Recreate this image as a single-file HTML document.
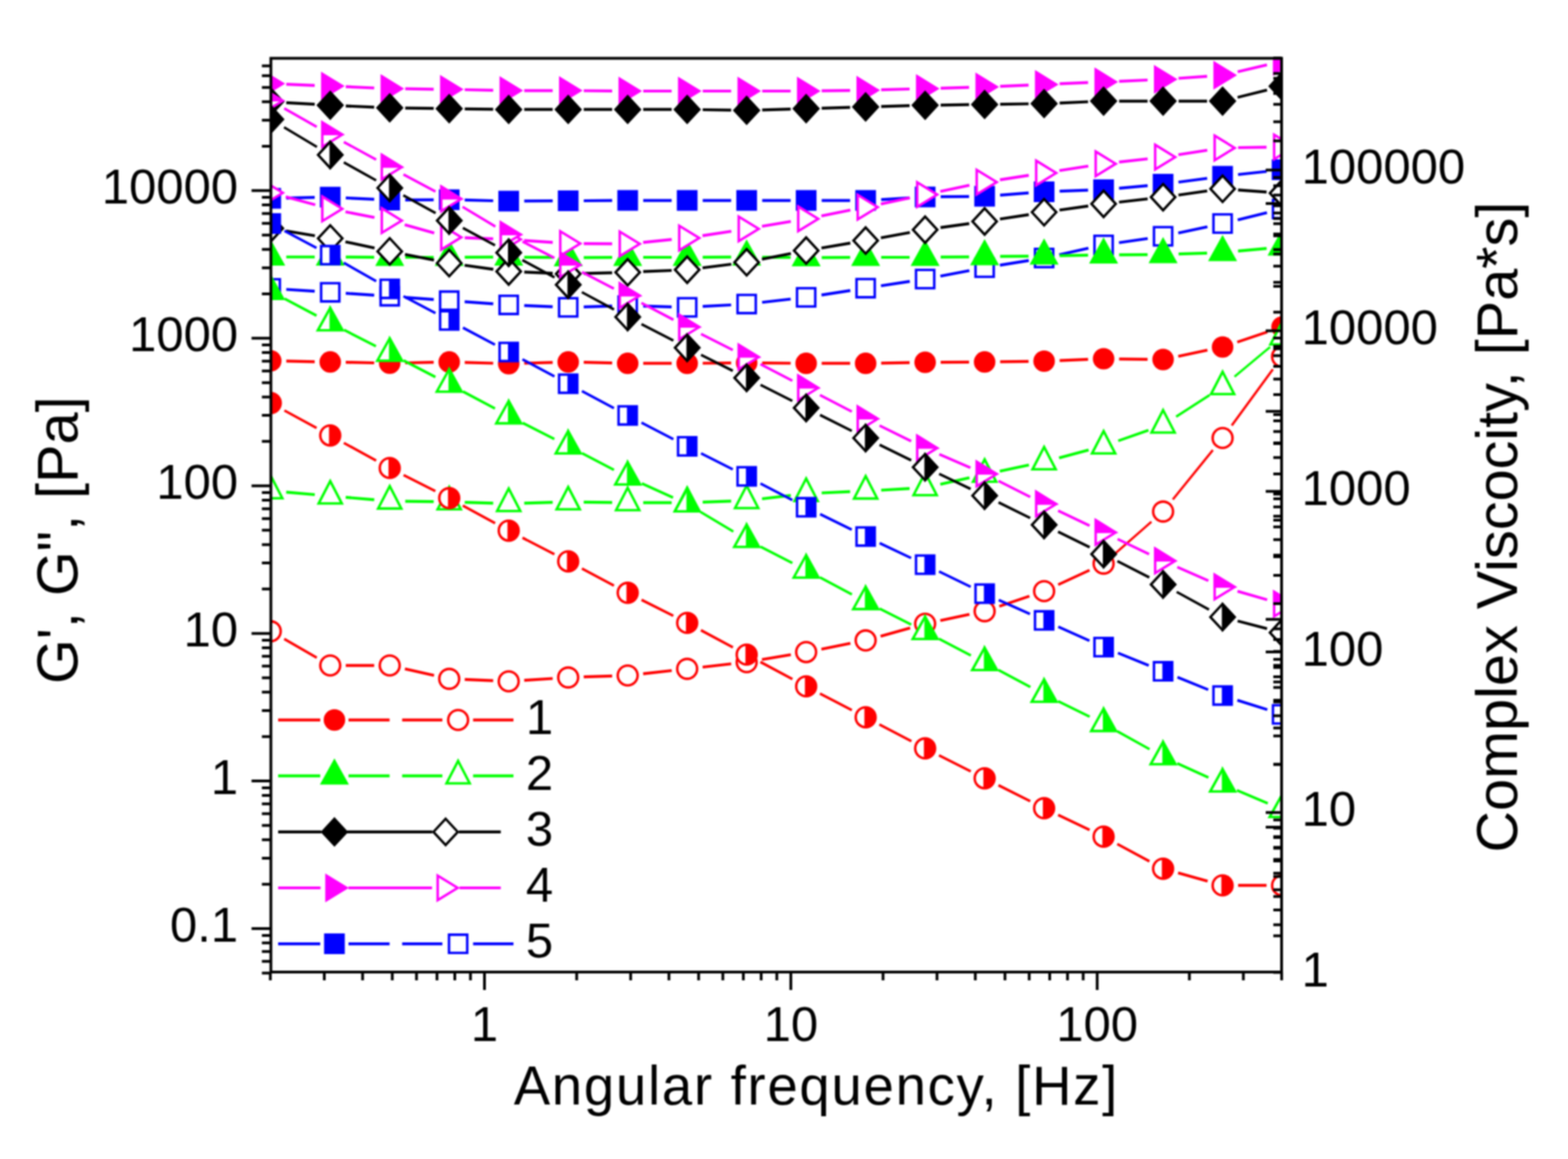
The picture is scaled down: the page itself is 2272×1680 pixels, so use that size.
<!DOCTYPE html>
<html><head><meta charset="utf-8"><title>Plot</title>
<style>
html,body{margin:0;padding:0;background:#fff;}
svg{display:block;filter:blur(0.8px);}
text{font-family:"Liberation Sans",Arial,Helvetica,sans-serif;fill:#000;}
.t{font-size:71px;}
.yt{font-size:83.5px;}
.xt{font-size:79px;letter-spacing:2.5px;}
</style></head><body>
<svg width="2272" height="1680" viewBox="0 0 2272 1680">
<rect width="2272" height="1680" fill="#fff"/>
<defs><clipPath id="pc"><rect x="392.5" y="84.5" width="1464.5" height="1324.5"/></clipPath></defs>
<g clip-path="url(#pc)">
<g fill="none" stroke="#ff0000"><path d="M414.8 523.4L456 524.3" stroke-width="4.20"/><path d="M501 525.1L542.2 526" stroke-width="4.20"/><path d="M587.2 526L628.4 525.1" stroke-width="4.20"/><path d="M673.4 525.3L714.6 526.5" stroke-width="4.20"/><path d="M759.6 526.5L800.8 525.3" stroke-width="4.20"/><path d="M845.8 525.2L887 526.2" stroke-width="4.20"/><path d="M932 526.7L973.2 526.7" stroke-width="4.20"/><path d="M1018.2 526.5L1059.4 526.2" stroke-width="4.20"/><path d="M1104.4 526.2L1145.6 526.5" stroke-width="4.20"/><path d="M1190.6 526.7L1231.8 526.7" stroke-width="4.20"/><path d="M1276.8 526.3L1318 525.6" stroke-width="4.20"/><path d="M1363 525.1L1404.2 524.8" stroke-width="4.20"/><path d="M1449.2 524.4L1490.4 523.8" stroke-width="4.20"/><path d="M1535.4 522.6L1576.6 520.9" stroke-width="4.20"/><path d="M1621.6 520.3L1662.8 520.8" stroke-width="4.20"/><path d="M1707.3 516.5L1749.5 507.6" stroke-width="4.11"/><path d="M1792.8 495.8L1836.4 481.2" stroke-width="3.98"/></g><circle cx="392.3" cy="523" r="15.6" fill="#ff0000"/><circle cx="478.5" cy="524.7" r="15.6" fill="#ff0000"/><circle cx="564.7" cy="526.4" r="15.6" fill="#ff0000"/><circle cx="650.9" cy="524.7" r="15.6" fill="#ff0000"/><circle cx="737.1" cy="527.1" r="15.6" fill="#ff0000"/><circle cx="823.3" cy="524.7" r="15.6" fill="#ff0000"/><circle cx="909.5" cy="526.7" r="15.6" fill="#ff0000"/><circle cx="995.7" cy="526.7" r="15.6" fill="#ff0000"/><circle cx="1081.9" cy="526" r="15.6" fill="#ff0000"/><circle cx="1168.1" cy="526.7" r="15.6" fill="#ff0000"/><circle cx="1254.3" cy="526.7" r="15.6" fill="#ff0000"/><circle cx="1340.5" cy="525.2" r="15.6" fill="#ff0000"/><circle cx="1426.7" cy="524.7" r="15.6" fill="#ff0000"/><circle cx="1512.9" cy="523.5" r="15.6" fill="#ff0000"/><circle cx="1599.1" cy="520" r="15.6" fill="#ff0000"/><circle cx="1685.3" cy="521.1" r="15.6" fill="#ff0000"/><circle cx="1771.5" cy="503" r="15.6" fill="#ff0000"/><circle cx="1857.7" cy="474" r="15.6" fill="#ff0000"/>
<g fill="none" stroke="#ff0000"><path d="M411.8 926.2L459 953.4" stroke-width="3.64"/><path d="M501 964.6L542.2 964.6" stroke-width="4.20"/><path d="M586.7 969.5L628.9 979.1" stroke-width="4.10"/><path d="M673.4 984.9L714.6 986.7" stroke-width="4.20"/><path d="M759.6 986.1L800.8 983.5" stroke-width="4.19"/><path d="M845.8 981.2L887 979.9" stroke-width="4.20"/><path d="M931.9 976.6L973.3 972" stroke-width="4.17"/><path d="M1018.1 967L1059.5 962.3" stroke-width="4.17"/><path d="M1104.1 956L1145.9 949" stroke-width="4.14"/><path d="M1190.2 940.9L1232.2 932.6" stroke-width="4.12"/><path d="M1276 922.2L1318.8 910.2" stroke-width="4.04"/><path d="M1362.5 899.5L1404.7 890.6" stroke-width="4.11"/><path d="M1448 878.8L1491.6 864.1" stroke-width="3.98"/><path d="M1533.3 847.4L1578.7 826.5" stroke-width="3.81"/><path d="M1616 802.2L1668.4 756.3" stroke-width="3.16"/><path d="M1699.4 724L1757.4 652.4" stroke-width="3.27"/><path d="M1784.8 616.7L1844.4 535.2" stroke-width="3.39"/></g><circle cx="392.3" cy="915" r="14.4" fill="#fff"/><circle cx="392.3" cy="915" r="14.4" fill="none" stroke="#ff0000" stroke-width="3.6"/><circle cx="478.5" cy="964.6" r="14.4" fill="#fff"/><circle cx="478.5" cy="964.6" r="14.4" fill="none" stroke="#ff0000" stroke-width="3.6"/><circle cx="564.7" cy="964.6" r="14.4" fill="#fff"/><circle cx="564.7" cy="964.6" r="14.4" fill="none" stroke="#ff0000" stroke-width="3.6"/><circle cx="650.9" cy="984" r="14.4" fill="#fff"/><circle cx="650.9" cy="984" r="14.4" fill="none" stroke="#ff0000" stroke-width="3.6"/><circle cx="737.1" cy="987.6" r="14.4" fill="#fff"/><circle cx="737.1" cy="987.6" r="14.4" fill="none" stroke="#ff0000" stroke-width="3.6"/><circle cx="823.3" cy="982" r="14.4" fill="#fff"/><circle cx="823.3" cy="982" r="14.4" fill="none" stroke="#ff0000" stroke-width="3.6"/><circle cx="909.5" cy="979.1" r="14.4" fill="#fff"/><circle cx="909.5" cy="979.1" r="14.4" fill="none" stroke="#ff0000" stroke-width="3.6"/><circle cx="995.7" cy="969.5" r="14.4" fill="#fff"/><circle cx="995.7" cy="969.5" r="14.4" fill="none" stroke="#ff0000" stroke-width="3.6"/><circle cx="1081.9" cy="959.8" r="14.4" fill="#fff"/><circle cx="1081.9" cy="959.8" r="14.4" fill="none" stroke="#ff0000" stroke-width="3.6"/><circle cx="1168.1" cy="945.2" r="14.4" fill="#fff"/><circle cx="1168.1" cy="945.2" r="14.4" fill="none" stroke="#ff0000" stroke-width="3.6"/><circle cx="1254.3" cy="928.3" r="14.4" fill="#fff"/><circle cx="1254.3" cy="928.3" r="14.4" fill="none" stroke="#ff0000" stroke-width="3.6"/><circle cx="1340.5" cy="904.1" r="14.4" fill="#fff"/><circle cx="1340.5" cy="904.1" r="14.4" fill="none" stroke="#ff0000" stroke-width="3.6"/><circle cx="1426.7" cy="886" r="14.4" fill="#fff"/><circle cx="1426.7" cy="886" r="14.4" fill="none" stroke="#ff0000" stroke-width="3.6"/><circle cx="1512.9" cy="856.9" r="14.4" fill="#fff"/><circle cx="1512.9" cy="856.9" r="14.4" fill="none" stroke="#ff0000" stroke-width="3.6"/><circle cx="1599.1" cy="817" r="14.4" fill="#fff"/><circle cx="1599.1" cy="817" r="14.4" fill="none" stroke="#ff0000" stroke-width="3.6"/><circle cx="1685.3" cy="741.5" r="14.4" fill="#fff"/><circle cx="1685.3" cy="741.5" r="14.4" fill="none" stroke="#ff0000" stroke-width="3.6"/><circle cx="1771.5" cy="634.9" r="14.4" fill="#fff"/><circle cx="1771.5" cy="634.9" r="14.4" fill="none" stroke="#ff0000" stroke-width="3.6"/><circle cx="1857.7" cy="517" r="14.4" fill="#fff"/><circle cx="1857.7" cy="517" r="14.4" fill="none" stroke="#ff0000" stroke-width="3.6"/>
<g fill="none" stroke="#0000ff"><path d="M414.8 287.1L456 286.2" stroke-width="4.20"/><path d="M501 286.9L542.2 288.9" stroke-width="4.20"/><path d="M587.2 289.8L628.4 289.6" stroke-width="4.20"/><path d="M673.4 289.9L714.6 291" stroke-width="4.20"/><path d="M759.6 291.4L800.8 291.2" stroke-width="4.20"/><path d="M845.8 291L887 290.7" stroke-width="4.20"/><path d="M932 290.6L973.2 290.6" stroke-width="4.20"/><path d="M1018.2 290.6L1059.4 290.6" stroke-width="4.20"/><path d="M1104.4 290.6L1145.6 290.6" stroke-width="4.20"/><path d="M1190.6 290.6L1231.8 290.6" stroke-width="4.20"/><path d="M1276.8 289.3L1318 286.8" stroke-width="4.19"/><path d="M1363 285.2L1404.2 284.8" stroke-width="4.20"/><path d="M1449.1 282.8L1490.5 279.7" stroke-width="4.19"/><path d="M1535.4 277.2L1576.6 275.7" stroke-width="4.20"/><path d="M1621.5 272.8L1662.9 269.1" stroke-width="4.18"/><path d="M1707.6 264L1749.2 258.5" stroke-width="4.16"/><path d="M1793.9 253L1835.3 248.5" stroke-width="4.17"/></g><path d="M379.1 274.3L405.5 274.3L405.5 300.7L379.1 300.7Z" fill="#0000ff" stroke="#0000ff" stroke-width="3.6" stroke-linejoin="miter"/><path d="M465.3 272.6L491.7 272.6L491.7 299L465.3 299Z" fill="#0000ff" stroke="#0000ff" stroke-width="3.6" stroke-linejoin="miter"/><path d="M551.5 276.8L577.9 276.8L577.9 303.2L551.5 303.2Z" fill="#0000ff" stroke="#0000ff" stroke-width="3.6" stroke-linejoin="miter"/><path d="M637.7 276.2L664.1 276.2L664.1 302.6L637.7 302.6Z" fill="#0000ff" stroke="#0000ff" stroke-width="3.6" stroke-linejoin="miter"/><path d="M723.9 278.3L750.3 278.3L750.3 304.7L723.9 304.7Z" fill="#0000ff" stroke="#0000ff" stroke-width="3.6" stroke-linejoin="miter"/><path d="M810.1 277.9L836.5 277.9L836.5 304.3L810.1 304.3Z" fill="#0000ff" stroke="#0000ff" stroke-width="3.6" stroke-linejoin="miter"/><path d="M896.3 277.4L922.7 277.4L922.7 303.8L896.3 303.8Z" fill="#0000ff" stroke="#0000ff" stroke-width="3.6" stroke-linejoin="miter"/><path d="M982.5 277.4L1008.9 277.4L1008.9 303.8L982.5 303.8Z" fill="#0000ff" stroke="#0000ff" stroke-width="3.6" stroke-linejoin="miter"/><path d="M1068.7 277.4L1095.1 277.4L1095.1 303.8L1068.7 303.8Z" fill="#0000ff" stroke="#0000ff" stroke-width="3.6" stroke-linejoin="miter"/><path d="M1154.9 277.4L1181.3 277.4L1181.3 303.8L1154.9 303.8Z" fill="#0000ff" stroke="#0000ff" stroke-width="3.6" stroke-linejoin="miter"/><path d="M1241.1 277.4L1267.5 277.4L1267.5 303.8L1241.1 303.8Z" fill="#0000ff" stroke="#0000ff" stroke-width="3.6" stroke-linejoin="miter"/><path d="M1327.3 272.3L1353.7 272.3L1353.7 298.7L1327.3 298.7Z" fill="#0000ff" stroke="#0000ff" stroke-width="3.6" stroke-linejoin="miter"/><path d="M1413.5 271.3L1439.9 271.3L1439.9 297.7L1413.5 297.7Z" fill="#0000ff" stroke="#0000ff" stroke-width="3.6" stroke-linejoin="miter"/><path d="M1499.7 264.8L1526.1 264.8L1526.1 291.2L1499.7 291.2Z" fill="#0000ff" stroke="#0000ff" stroke-width="3.6" stroke-linejoin="miter"/><path d="M1585.9 261.7L1612.3 261.7L1612.3 288.1L1585.9 288.1Z" fill="#0000ff" stroke="#0000ff" stroke-width="3.6" stroke-linejoin="miter"/><path d="M1672.1 253.8L1698.5 253.8L1698.5 280.2L1672.1 280.2Z" fill="#0000ff" stroke="#0000ff" stroke-width="3.6" stroke-linejoin="miter"/><path d="M1758.3 242.3L1784.7 242.3L1784.7 268.7L1758.3 268.7Z" fill="#0000ff" stroke="#0000ff" stroke-width="3.6" stroke-linejoin="miter"/><path d="M1844.5 232.8L1870.9 232.8L1870.9 259.2L1844.5 259.2Z" fill="#0000ff" stroke="#0000ff" stroke-width="3.6" stroke-linejoin="miter"/>
<g fill="none" stroke="#0000ff"><path d="M414.8 419.5L456 422.2" stroke-width="4.19"/><path d="M501 425.2L542.2 427.9" stroke-width="4.19"/><path d="M587.1 431.1L628.5 434.1" stroke-width="4.19"/><path d="M673.3 437.4L714.7 440.3" stroke-width="4.19"/><path d="M759.6 442.8L800.8 444.6" stroke-width="4.20"/><path d="M845.8 444.8L887 443.7" stroke-width="4.20"/><path d="M932 443.7L973.2 444.8" stroke-width="4.20"/><path d="M1018.2 444.2L1059.4 442" stroke-width="4.19"/><path d="M1104.3 438.2L1145.7 433.5" stroke-width="4.17"/><path d="M1190.3 427.6L1232.1 421.1" stroke-width="4.15"/><path d="M1276.5 414.3L1318.3 407.9" stroke-width="4.15"/><path d="M1362.6 400.3L1404.6 392.2" stroke-width="4.13"/><path d="M1448.9 384.4L1490.7 377.6" stroke-width="4.15"/><path d="M1534.9 369.2L1577.1 359.8" stroke-width="4.10"/><path d="M1621.4 351.8L1663 345.7" stroke-width="4.16"/><path d="M1707.3 337.8L1749.5 328.7" stroke-width="4.11"/><path d="M1793.4 318.7L1835.8 308.3" stroke-width="4.08"/></g><path d="M379.1 404.8L405.5 404.8L405.5 431.2L379.1 431.2Z" fill="#fff"/><path d="M379.1 404.8L405.5 404.8L405.5 431.2L379.1 431.2Z" fill="none" stroke="#0000ff" stroke-width="3.6" stroke-linejoin="miter"/><path d="M465.3 410.5L491.7 410.5L491.7 436.9L465.3 436.9Z" fill="#fff"/><path d="M465.3 410.5L491.7 410.5L491.7 436.9L465.3 436.9Z" fill="none" stroke="#0000ff" stroke-width="3.6" stroke-linejoin="miter"/><path d="M551.5 416.2L577.9 416.2L577.9 442.6L551.5 442.6Z" fill="#fff"/><path d="M551.5 416.2L577.9 416.2L577.9 442.6L551.5 442.6Z" fill="none" stroke="#0000ff" stroke-width="3.6" stroke-linejoin="miter"/><path d="M637.7 422.6L664.1 422.6L664.1 449L637.7 449Z" fill="#fff"/><path d="M637.7 422.6L664.1 422.6L664.1 449L637.7 449Z" fill="none" stroke="#0000ff" stroke-width="3.6" stroke-linejoin="miter"/><path d="M723.9 428.7L750.3 428.7L750.3 455.1L723.9 455.1Z" fill="#fff"/><path d="M723.9 428.7L750.3 428.7L750.3 455.1L723.9 455.1Z" fill="none" stroke="#0000ff" stroke-width="3.6" stroke-linejoin="miter"/><path d="M810.1 432.3L836.5 432.3L836.5 458.7L810.1 458.7Z" fill="#fff"/><path d="M810.1 432.3L836.5 432.3L836.5 458.7L810.1 458.7Z" fill="none" stroke="#0000ff" stroke-width="3.6" stroke-linejoin="miter"/><path d="M896.3 429.8L922.7 429.8L922.7 456.2L896.3 456.2Z" fill="#fff"/><path d="M896.3 429.8L922.7 429.8L922.7 456.2L896.3 456.2Z" fill="none" stroke="#0000ff" stroke-width="3.6" stroke-linejoin="miter"/><path d="M982.5 432.3L1008.9 432.3L1008.9 458.7L982.5 458.7Z" fill="#fff"/><path d="M982.5 432.3L1008.9 432.3L1008.9 458.7L982.5 458.7Z" fill="none" stroke="#0000ff" stroke-width="3.6" stroke-linejoin="miter"/><path d="M1068.7 427.5L1095.1 427.5L1095.1 453.9L1068.7 453.9Z" fill="#fff"/><path d="M1068.7 427.5L1095.1 427.5L1095.1 453.9L1068.7 453.9Z" fill="none" stroke="#0000ff" stroke-width="3.6" stroke-linejoin="miter"/><path d="M1154.9 417.8L1181.3 417.8L1181.3 444.2L1154.9 444.2Z" fill="#fff"/><path d="M1154.9 417.8L1181.3 417.8L1181.3 444.2L1154.9 444.2Z" fill="none" stroke="#0000ff" stroke-width="3.6" stroke-linejoin="miter"/><path d="M1241.1 404.5L1267.5 404.5L1267.5 430.9L1241.1 430.9Z" fill="#fff"/><path d="M1241.1 404.5L1267.5 404.5L1267.5 430.9L1241.1 430.9Z" fill="none" stroke="#0000ff" stroke-width="3.6" stroke-linejoin="miter"/><path d="M1327.3 391.3L1353.7 391.3L1353.7 417.7L1327.3 417.7Z" fill="#fff"/><path d="M1327.3 391.3L1353.7 391.3L1353.7 417.7L1327.3 417.7Z" fill="none" stroke="#0000ff" stroke-width="3.6" stroke-linejoin="miter"/><path d="M1413.5 374.8L1439.9 374.8L1439.9 401.2L1413.5 401.2Z" fill="#fff"/><path d="M1413.5 374.8L1439.9 374.8L1439.9 401.2L1413.5 401.2Z" fill="none" stroke="#0000ff" stroke-width="3.6" stroke-linejoin="miter"/><path d="M1499.7 360.8L1526.1 360.8L1526.1 387.2L1499.7 387.2Z" fill="#fff"/><path d="M1499.7 360.8L1526.1 360.8L1526.1 387.2L1499.7 387.2Z" fill="none" stroke="#0000ff" stroke-width="3.6" stroke-linejoin="miter"/><path d="M1585.9 341.8L1612.3 341.8L1612.3 368.2L1585.9 368.2Z" fill="#fff"/><path d="M1585.9 341.8L1612.3 341.8L1612.3 368.2L1585.9 368.2Z" fill="none" stroke="#0000ff" stroke-width="3.6" stroke-linejoin="miter"/><path d="M1672.1 329.3L1698.5 329.3L1698.5 355.7L1672.1 355.7Z" fill="#fff"/><path d="M1672.1 329.3L1698.5 329.3L1698.5 355.7L1672.1 355.7Z" fill="none" stroke="#0000ff" stroke-width="3.6" stroke-linejoin="miter"/><path d="M1758.3 310.8L1784.7 310.8L1784.7 337.2L1758.3 337.2Z" fill="#fff"/><path d="M1758.3 310.8L1784.7 310.8L1784.7 337.2L1758.3 337.2Z" fill="none" stroke="#0000ff" stroke-width="3.6" stroke-linejoin="miter"/><path d="M1844.5 289.8L1870.9 289.8L1870.9 316.2L1844.5 316.2Z" fill="#fff"/><path d="M1844.5 289.8L1870.9 289.8L1870.9 316.2L1844.5 316.2Z" fill="none" stroke="#0000ff" stroke-width="3.6" stroke-linejoin="miter"/>
<g fill="none" stroke="#00ff00"><path d="M414.8 372.5L456 372.5" stroke-width="4.20"/><path d="M501 372.6L542.2 372.9" stroke-width="4.20"/><path d="M587.2 373L628.4 373" stroke-width="4.20"/><path d="M673.4 372.9L714.6 372.6" stroke-width="4.20"/><path d="M759.6 372.8L800.8 373.2" stroke-width="4.20"/><path d="M845.8 373.4L887 373.1" stroke-width="4.20"/><path d="M932 373L973.2 373" stroke-width="4.20"/><path d="M1018.2 372.9L1059.4 372.6" stroke-width="4.20"/><path d="M1104.4 372.8L1145.6 373.2" stroke-width="4.20"/><path d="M1190.6 373.4L1231.8 373.1" stroke-width="4.20"/><path d="M1276.8 373L1318 373" stroke-width="4.20"/><path d="M1363 372.7L1404.2 372.3" stroke-width="4.20"/><path d="M1449.2 371.7L1490.4 371.3" stroke-width="4.20"/><path d="M1535.4 370.6L1576.6 369.9" stroke-width="4.20"/><path d="M1621.6 369.4L1662.8 369.1" stroke-width="4.20"/><path d="M1707.8 368.2L1749 366.8" stroke-width="4.20"/><path d="M1793.9 363.9L1835.3 360.1" stroke-width="4.18"/></g><path d="M392.3 350.8L410.3 383.3L374.3 383.3Z" fill="#00ff00" stroke="#00ff00" stroke-width="3.6" stroke-linejoin="miter"/><path d="M478.5 350.8L496.5 383.3L460.5 383.3Z" fill="#00ff00" stroke="#00ff00" stroke-width="3.6" stroke-linejoin="miter"/><path d="M564.7 351.3L582.7 383.8L546.7 383.8Z" fill="#00ff00" stroke="#00ff00" stroke-width="3.6" stroke-linejoin="miter"/><path d="M650.9 351.3L668.9 383.8L632.9 383.8Z" fill="#00ff00" stroke="#00ff00" stroke-width="3.6" stroke-linejoin="miter"/><path d="M737.1 350.8L755.1 383.3L719.1 383.3Z" fill="#00ff00" stroke="#00ff00" stroke-width="3.6" stroke-linejoin="miter"/><path d="M823.3 351.8L841.3 384.3L805.3 384.3Z" fill="#00ff00" stroke="#00ff00" stroke-width="3.6" stroke-linejoin="miter"/><path d="M909.5 351.3L927.5 383.8L891.5 383.8Z" fill="#00ff00" stroke="#00ff00" stroke-width="3.6" stroke-linejoin="miter"/><path d="M995.7 351.3L1013.7 383.8L977.7 383.8Z" fill="#00ff00" stroke="#00ff00" stroke-width="3.6" stroke-linejoin="miter"/><path d="M1081.9 350.8L1099.9 383.3L1063.9 383.3Z" fill="#00ff00" stroke="#00ff00" stroke-width="3.6" stroke-linejoin="miter"/><path d="M1168.1 351.8L1186.1 384.3L1150.1 384.3Z" fill="#00ff00" stroke="#00ff00" stroke-width="3.6" stroke-linejoin="miter"/><path d="M1254.3 351.3L1272.3 383.8L1236.3 383.8Z" fill="#00ff00" stroke="#00ff00" stroke-width="3.6" stroke-linejoin="miter"/><path d="M1340.5 351.3L1358.5 383.8L1322.5 383.8Z" fill="#00ff00" stroke="#00ff00" stroke-width="3.6" stroke-linejoin="miter"/><path d="M1426.7 350.3L1444.7 382.8L1408.7 382.8Z" fill="#00ff00" stroke="#00ff00" stroke-width="3.6" stroke-linejoin="miter"/><path d="M1512.9 349.3L1530.9 381.8L1494.9 381.8Z" fill="#00ff00" stroke="#00ff00" stroke-width="3.6" stroke-linejoin="miter"/><path d="M1599.1 347.8L1617.1 380.3L1581.1 380.3Z" fill="#00ff00" stroke="#00ff00" stroke-width="3.6" stroke-linejoin="miter"/><path d="M1685.3 347.3L1703.3 379.8L1667.3 379.8Z" fill="#00ff00" stroke="#00ff00" stroke-width="3.6" stroke-linejoin="miter"/><path d="M1771.5 344.3L1789.5 376.8L1753.5 376.8Z" fill="#00ff00" stroke="#00ff00" stroke-width="3.6" stroke-linejoin="miter"/><path d="M1857.7 336.3L1875.7 368.8L1839.7 368.8Z" fill="#00ff00" stroke="#00ff00" stroke-width="3.6" stroke-linejoin="miter"/>
<g fill="none" stroke="#00ff00"><path d="M414.7 713.4L456.1 717" stroke-width="4.18"/><path d="M500.9 720.9L542.3 724.4" stroke-width="4.19"/><path d="M587.2 726.6L628.4 727.2" stroke-width="4.20"/><path d="M673.4 728.1L714.6 729.3" stroke-width="4.20"/><path d="M759.6 729.3L800.8 728.1" stroke-width="4.20"/><path d="M845.8 727.8L887 728.4" stroke-width="4.20"/><path d="M932 728.6L973.2 728.6" stroke-width="4.20"/><path d="M1018.2 727.8L1059.4 726.4" stroke-width="4.20"/><path d="M1104.2 723L1145.8 718.1" stroke-width="4.17"/><path d="M1190.6 714.5L1231.8 712.7" stroke-width="4.20"/><path d="M1276.8 710.5L1318 708.2" stroke-width="4.19"/><path d="M1362.5 702L1404.7 692.4" stroke-width="4.10"/><path d="M1448.7 682.9L1490.9 674.1" stroke-width="4.11"/><path d="M1534.6 663.7L1577.4 652.3" stroke-width="4.06"/><path d="M1620.3 639L1664.1 623.7" stroke-width="3.96"/><path d="M1704.2 604L1752.6 572.7" stroke-width="3.53"/><path d="M1788.8 546.1L1840.4 502.9" stroke-width="3.22"/></g><path d="M392.3 689.7L409.1 722.2L375.5 722.2Z" fill="#fff"/><path d="M392.3 689.7L409.1 722.2L375.5 722.2Z" fill="none" stroke="#00ff00" stroke-width="3.6" stroke-linejoin="miter"/><path d="M478.5 697.3L495.3 729.8L461.7 729.8Z" fill="#fff"/><path d="M478.5 697.3L495.3 729.8L461.7 729.8Z" fill="none" stroke="#00ff00" stroke-width="3.6" stroke-linejoin="miter"/><path d="M564.7 704.6L581.5 737.1L547.9 737.1Z" fill="#fff"/><path d="M564.7 704.6L581.5 737.1L547.9 737.1Z" fill="none" stroke="#00ff00" stroke-width="3.6" stroke-linejoin="miter"/><path d="M650.9 705.8L667.7 738.3L634.1 738.3Z" fill="#fff"/><path d="M650.9 705.8L667.7 738.3L634.1 738.3Z" fill="none" stroke="#00ff00" stroke-width="3.6" stroke-linejoin="miter"/><path d="M737.1 708.2L753.9 740.7L720.3 740.7Z" fill="#fff"/><path d="M737.1 708.2L753.9 740.7L720.3 740.7Z" fill="none" stroke="#00ff00" stroke-width="3.6" stroke-linejoin="miter"/><path d="M823.3 705.8L840.1 738.3L806.5 738.3Z" fill="#fff"/><path d="M823.3 705.8L840.1 738.3L806.5 738.3Z" fill="none" stroke="#00ff00" stroke-width="3.6" stroke-linejoin="miter"/><path d="M909.5 707L926.3 739.5L892.7 739.5Z" fill="#fff"/><path d="M909.5 707L926.3 739.5L892.7 739.5Z" fill="none" stroke="#00ff00" stroke-width="3.6" stroke-linejoin="miter"/><path d="M995.7 706.8L1012.5 739.3L978.9 739.3Z" fill="#fff"/><path d="M995.7 706.8L1012.5 739.3L978.9 739.3Z" fill="none" stroke="#00ff00" stroke-width="3.6" stroke-linejoin="miter"/><path d="M1081.9 704L1098.7 736.5L1065.1 736.5Z" fill="#fff"/><path d="M1081.9 704L1098.7 736.5L1065.1 736.5Z" fill="none" stroke="#00ff00" stroke-width="3.6" stroke-linejoin="miter"/><path d="M1168.1 693.7L1184.9 726.2L1151.3 726.2Z" fill="#fff"/><path d="M1168.1 693.7L1184.9 726.2L1151.3 726.2Z" fill="none" stroke="#00ff00" stroke-width="3.6" stroke-linejoin="miter"/><path d="M1254.3 690.1L1271.1 722.6L1237.5 722.6Z" fill="#fff"/><path d="M1254.3 690.1L1271.1 722.6L1237.5 722.6Z" fill="none" stroke="#00ff00" stroke-width="3.6" stroke-linejoin="miter"/><path d="M1340.5 685.2L1357.3 717.7L1323.7 717.7Z" fill="#fff"/><path d="M1340.5 685.2L1357.3 717.7L1323.7 717.7Z" fill="none" stroke="#00ff00" stroke-width="3.6" stroke-linejoin="miter"/><path d="M1426.7 665.8L1443.5 698.3L1409.9 698.3Z" fill="#fff"/><path d="M1426.7 665.8L1443.5 698.3L1409.9 698.3Z" fill="none" stroke="#00ff00" stroke-width="3.6" stroke-linejoin="miter"/><path d="M1512.9 647.8L1529.7 680.3L1496.1 680.3Z" fill="#fff"/><path d="M1512.9 647.8L1529.7 680.3L1496.1 680.3Z" fill="none" stroke="#00ff00" stroke-width="3.6" stroke-linejoin="miter"/><path d="M1599.1 624.8L1615.9 657.3L1582.3 657.3Z" fill="#fff"/><path d="M1599.1 624.8L1615.9 657.3L1582.3 657.3Z" fill="none" stroke="#00ff00" stroke-width="3.6" stroke-linejoin="miter"/><path d="M1685.3 594.5L1702.1 627L1668.5 627Z" fill="#fff"/><path d="M1685.3 594.5L1702.1 627L1668.5 627Z" fill="none" stroke="#00ff00" stroke-width="3.6" stroke-linejoin="miter"/><path d="M1771.5 538.8L1788.3 571.3L1754.7 571.3Z" fill="#fff"/><path d="M1771.5 538.8L1788.3 571.3L1754.7 571.3Z" fill="none" stroke="#00ff00" stroke-width="3.6" stroke-linejoin="miter"/><path d="M1857.7 466.8L1874.5 499.3L1840.9 499.3Z" fill="#fff"/><path d="M1857.7 466.8L1874.5 499.3L1840.9 499.3Z" fill="none" stroke="#00ff00" stroke-width="3.6" stroke-linejoin="miter"/>
<g fill="none" stroke="#ff00ff"><path d="M414.8 122.2L456 123.9" stroke-width="4.20"/><path d="M501 125.7L542.2 127.5" stroke-width="4.20"/><path d="M587.2 128.7L628.4 129.3" stroke-width="4.20"/><path d="M673.4 130L714.6 130.9" stroke-width="4.20"/><path d="M759.6 131.3L800.8 131.3" stroke-width="4.20"/><path d="M845.8 131.5L887 131.8" stroke-width="4.20"/><path d="M932 132L973.2 132" stroke-width="4.20"/><path d="M1018.2 132L1059.4 132" stroke-width="4.20"/><path d="M1104.4 132L1145.6 132" stroke-width="4.20"/><path d="M1190.6 131.7L1231.8 131.1" stroke-width="4.20"/><path d="M1276.8 130.2L1318 129" stroke-width="4.20"/><path d="M1363 127.8L1404.2 126.6" stroke-width="4.20"/><path d="M1449.2 125.1L1490.4 123.3" stroke-width="4.20"/><path d="M1535.4 121.4L1576.6 119.7" stroke-width="4.20"/><path d="M1621.6 117.8L1662.8 116" stroke-width="4.20"/><path d="M1707.7 113.5L1749.1 110.6" stroke-width="4.19"/><path d="M1793.4 103.9L1835.8 94.1" stroke-width="4.09"/></g><path d="M380.8 103.5L409.8 121.3L380.8 139.1Z" fill="#ff00ff" stroke="#ff00ff" stroke-width="3.6" stroke-linejoin="miter"/><path d="M467 107L496 124.8L467 142.6Z" fill="#ff00ff" stroke="#ff00ff" stroke-width="3.6" stroke-linejoin="miter"/><path d="M553.2 110.6L582.2 128.4L553.2 146.2Z" fill="#ff00ff" stroke="#ff00ff" stroke-width="3.6" stroke-linejoin="miter"/><path d="M639.4 111.8L668.4 129.6L639.4 147.4Z" fill="#ff00ff" stroke="#ff00ff" stroke-width="3.6" stroke-linejoin="miter"/><path d="M725.6 113.5L754.6 131.3L725.6 149.1Z" fill="#ff00ff" stroke="#ff00ff" stroke-width="3.6" stroke-linejoin="miter"/><path d="M811.8 113.5L840.8 131.3L811.8 149.1Z" fill="#ff00ff" stroke="#ff00ff" stroke-width="3.6" stroke-linejoin="miter"/><path d="M898 114.2L927 132L898 149.8Z" fill="#ff00ff" stroke="#ff00ff" stroke-width="3.6" stroke-linejoin="miter"/><path d="M984.2 114.2L1013.2 132L984.2 149.8Z" fill="#ff00ff" stroke="#ff00ff" stroke-width="3.6" stroke-linejoin="miter"/><path d="M1070.4 114.2L1099.4 132L1070.4 149.8Z" fill="#ff00ff" stroke="#ff00ff" stroke-width="3.6" stroke-linejoin="miter"/><path d="M1156.6 114.2L1185.6 132L1156.6 149.8Z" fill="#ff00ff" stroke="#ff00ff" stroke-width="3.6" stroke-linejoin="miter"/><path d="M1242.8 113L1271.8 130.8L1242.8 148.6Z" fill="#ff00ff" stroke="#ff00ff" stroke-width="3.6" stroke-linejoin="miter"/><path d="M1329 110.6L1358 128.4L1329 146.2Z" fill="#ff00ff" stroke="#ff00ff" stroke-width="3.6" stroke-linejoin="miter"/><path d="M1415.2 108.2L1444.2 126L1415.2 143.8Z" fill="#ff00ff" stroke="#ff00ff" stroke-width="3.6" stroke-linejoin="miter"/><path d="M1501.4 104.6L1530.4 122.4L1501.4 140.2Z" fill="#ff00ff" stroke="#ff00ff" stroke-width="3.6" stroke-linejoin="miter"/><path d="M1587.6 100.9L1616.6 118.7L1587.6 136.5Z" fill="#ff00ff" stroke="#ff00ff" stroke-width="3.6" stroke-linejoin="miter"/><path d="M1673.8 97.3L1702.8 115.1L1673.8 132.9Z" fill="#ff00ff" stroke="#ff00ff" stroke-width="3.6" stroke-linejoin="miter"/><path d="M1760 91.2L1789 109L1760 126.8Z" fill="#ff00ff" stroke="#ff00ff" stroke-width="3.6" stroke-linejoin="miter"/><path d="M1846.2 71.2L1875.2 89L1846.2 106.8Z" fill="#ff00ff" stroke="#ff00ff" stroke-width="3.6" stroke-linejoin="miter"/>
<g fill="none" stroke="#ff00ff"><path d="M414 285.3L456.8 296.9" stroke-width="4.06"/><path d="M500.6 307.1L542.6 315.3" stroke-width="4.12"/><path d="M586.4 325.8L629.2 337.8" stroke-width="4.04"/><path d="M673.4 344.7L714.6 346.2" stroke-width="4.20"/><path d="M759.5 348.6L800.9 351.4" stroke-width="4.19"/><path d="M845.8 353.1L887 353.4" stroke-width="4.20"/><path d="M931.9 351.3L973.3 347.2" stroke-width="4.18"/><path d="M1017.9 341.6L1059.7 335.2" stroke-width="4.15"/><path d="M1104.1 328L1145.9 321" stroke-width="4.14"/><path d="M1190.2 312.9L1232.2 304.6" stroke-width="4.12"/><path d="M1276.3 295.7L1318.5 286.7" stroke-width="4.11"/><path d="M1362.5 277.5L1404.7 268.6" stroke-width="4.11"/><path d="M1448.9 260.6L1490.7 254.1" stroke-width="4.15"/><path d="M1535.1 247.3L1576.9 240.8" stroke-width="4.15"/><path d="M1621.5 234.9L1662.9 230.2" stroke-width="4.17"/><path d="M1707.5 224.3L1749.3 217.8" stroke-width="4.15"/><path d="M1794 214L1835.2 213.4" stroke-width="4.20"/></g><path d="M380.8 261.7L409.8 279.5L380.8 297.3Z" fill="#fff"/><path d="M380.8 261.7L409.8 279.5L380.8 297.3Z" fill="none" stroke="#ff00ff" stroke-width="3.6" stroke-linejoin="miter"/><path d="M467 284.9L496 302.7L467 320.5Z" fill="#fff"/><path d="M467 284.9L496 302.7L467 320.5Z" fill="none" stroke="#ff00ff" stroke-width="3.6" stroke-linejoin="miter"/><path d="M553.2 301.9L582.2 319.7L553.2 337.5Z" fill="#fff"/><path d="M553.2 301.9L582.2 319.7L553.2 337.5Z" fill="none" stroke="#ff00ff" stroke-width="3.6" stroke-linejoin="miter"/><path d="M639.4 326.1L668.4 343.9L639.4 361.7Z" fill="#fff"/><path d="M639.4 326.1L668.4 343.9L639.4 361.7Z" fill="none" stroke="#ff00ff" stroke-width="3.6" stroke-linejoin="miter"/><path d="M725.6 329.2L754.6 347L725.6 364.8Z" fill="#fff"/><path d="M725.6 329.2L754.6 347L725.6 364.8Z" fill="none" stroke="#ff00ff" stroke-width="3.6" stroke-linejoin="miter"/><path d="M811.8 335.2L840.8 353L811.8 370.8Z" fill="#fff"/><path d="M811.8 335.2L840.8 353L811.8 370.8Z" fill="none" stroke="#ff00ff" stroke-width="3.6" stroke-linejoin="miter"/><path d="M898 335.7L927 353.5L898 371.3Z" fill="#fff"/><path d="M898 335.7L927 353.5L898 371.3Z" fill="none" stroke="#ff00ff" stroke-width="3.6" stroke-linejoin="miter"/><path d="M984.2 327.2L1013.2 345L984.2 362.8Z" fill="#fff"/><path d="M984.2 327.2L1013.2 345L984.2 362.8Z" fill="none" stroke="#ff00ff" stroke-width="3.6" stroke-linejoin="miter"/><path d="M1070.4 314L1099.4 331.8L1070.4 349.6Z" fill="#fff"/><path d="M1070.4 314L1099.4 331.8L1070.4 349.6Z" fill="none" stroke="#ff00ff" stroke-width="3.6" stroke-linejoin="miter"/><path d="M1156.6 299.4L1185.6 317.2L1156.6 335Z" fill="#fff"/><path d="M1156.6 299.4L1185.6 317.2L1156.6 335Z" fill="none" stroke="#ff00ff" stroke-width="3.6" stroke-linejoin="miter"/><path d="M1242.8 282.5L1271.8 300.3L1242.8 318.1Z" fill="#fff"/><path d="M1242.8 282.5L1271.8 300.3L1242.8 318.1Z" fill="none" stroke="#ff00ff" stroke-width="3.6" stroke-linejoin="miter"/><path d="M1329 264.3L1358 282.1L1329 299.9Z" fill="#fff"/><path d="M1329 264.3L1358 282.1L1329 299.9Z" fill="none" stroke="#ff00ff" stroke-width="3.6" stroke-linejoin="miter"/><path d="M1415.2 246.2L1444.2 264L1415.2 281.8Z" fill="#fff"/><path d="M1415.2 246.2L1444.2 264L1415.2 281.8Z" fill="none" stroke="#ff00ff" stroke-width="3.6" stroke-linejoin="miter"/><path d="M1501.4 232.9L1530.4 250.7L1501.4 268.5Z" fill="#fff"/><path d="M1501.4 232.9L1530.4 250.7L1501.4 268.5Z" fill="none" stroke="#ff00ff" stroke-width="3.6" stroke-linejoin="miter"/><path d="M1587.6 219.6L1616.6 237.4L1587.6 255.2Z" fill="#fff"/><path d="M1587.6 219.6L1616.6 237.4L1587.6 255.2Z" fill="none" stroke="#ff00ff" stroke-width="3.6" stroke-linejoin="miter"/><path d="M1673.8 209.9L1702.8 227.7L1673.8 245.5Z" fill="#fff"/><path d="M1673.8 209.9L1702.8 227.7L1673.8 245.5Z" fill="none" stroke="#ff00ff" stroke-width="3.6" stroke-linejoin="miter"/><path d="M1760 196.6L1789 214.4L1760 232.2Z" fill="#fff"/><path d="M1760 196.6L1789 214.4L1760 232.2Z" fill="none" stroke="#ff00ff" stroke-width="3.6" stroke-linejoin="miter"/><path d="M1846.2 195.2L1875.2 213L1846.2 230.8Z" fill="#fff"/><path d="M1846.2 195.2L1875.2 213L1846.2 230.8Z" fill="none" stroke="#ff00ff" stroke-width="3.6" stroke-linejoin="miter"/>
<g fill="none" stroke="#000000"><path d="M414.8 148.8L456 151.2" stroke-width="4.19"/><path d="M501 153.6L542.2 155.3" stroke-width="4.20"/><path d="M587.2 156.6L628.4 157.2" stroke-width="4.20"/><path d="M673.4 157.8L714.6 158.4" stroke-width="4.20"/><path d="M759.6 158.7L800.8 158.7" stroke-width="4.20"/><path d="M845.8 158.7L887 158.7" stroke-width="4.20"/><path d="M932 158.7L973.2 158.7" stroke-width="4.20"/><path d="M1018.2 159L1059.4 159.6" stroke-width="4.20"/><path d="M1104.4 159.3L1145.6 158.1" stroke-width="4.20"/><path d="M1190.6 156.8L1231.8 155.7" stroke-width="4.20"/><path d="M1276.8 154.4L1318 153.2" stroke-width="4.20"/><path d="M1363 152.3L1404.2 151.7" stroke-width="4.20"/><path d="M1449.2 151.1L1490.4 150.5" stroke-width="4.20"/><path d="M1535.4 149.3L1576.6 147.5" stroke-width="4.20"/><path d="M1621.6 146.6L1662.8 146.6" stroke-width="4.20"/><path d="M1707.8 146.6L1749 146.6" stroke-width="4.20"/><path d="M1793.3 141.1L1835.9 130.5" stroke-width="4.07"/></g><path d="M392.3 128.4L409.9 147.4L392.3 166.4L374.7 147.4Z" fill="#000000" stroke="#000000" stroke-width="3.6" stroke-linejoin="miter"/><path d="M478.5 133.6L496.1 152.6L478.5 171.6L460.9 152.6Z" fill="#000000" stroke="#000000" stroke-width="3.6" stroke-linejoin="miter"/><path d="M564.7 137.3L582.3 156.3L564.7 175.3L547.1 156.3Z" fill="#000000" stroke="#000000" stroke-width="3.6" stroke-linejoin="miter"/><path d="M650.9 138.5L668.5 157.5L650.9 176.5L633.3 157.5Z" fill="#000000" stroke="#000000" stroke-width="3.6" stroke-linejoin="miter"/><path d="M737.1 139.7L754.7 158.7L737.1 177.7L719.5 158.7Z" fill="#000000" stroke="#000000" stroke-width="3.6" stroke-linejoin="miter"/><path d="M823.3 139.7L840.9 158.7L823.3 177.7L805.7 158.7Z" fill="#000000" stroke="#000000" stroke-width="3.6" stroke-linejoin="miter"/><path d="M909.5 139.7L927.1 158.7L909.5 177.7L891.9 158.7Z" fill="#000000" stroke="#000000" stroke-width="3.6" stroke-linejoin="miter"/><path d="M995.7 139.7L1013.3 158.7L995.7 177.7L978.1 158.7Z" fill="#000000" stroke="#000000" stroke-width="3.6" stroke-linejoin="miter"/><path d="M1081.9 140.9L1099.5 159.9L1081.9 178.9L1064.3 159.9Z" fill="#000000" stroke="#000000" stroke-width="3.6" stroke-linejoin="miter"/><path d="M1168.1 138.5L1185.7 157.5L1168.1 176.5L1150.5 157.5Z" fill="#000000" stroke="#000000" stroke-width="3.6" stroke-linejoin="miter"/><path d="M1254.3 136L1271.9 155L1254.3 174L1236.7 155Z" fill="#000000" stroke="#000000" stroke-width="3.6" stroke-linejoin="miter"/><path d="M1340.5 133.6L1358.1 152.6L1340.5 171.6L1322.9 152.6Z" fill="#000000" stroke="#000000" stroke-width="3.6" stroke-linejoin="miter"/><path d="M1426.7 132.4L1444.3 151.4L1426.7 170.4L1409.1 151.4Z" fill="#000000" stroke="#000000" stroke-width="3.6" stroke-linejoin="miter"/><path d="M1512.9 131.2L1530.5 150.2L1512.9 169.2L1495.3 150.2Z" fill="#000000" stroke="#000000" stroke-width="3.6" stroke-linejoin="miter"/><path d="M1599.1 127.6L1616.7 146.6L1599.1 165.6L1581.5 146.6Z" fill="#000000" stroke="#000000" stroke-width="3.6" stroke-linejoin="miter"/><path d="M1685.3 127.6L1702.9 146.6L1685.3 165.6L1667.7 146.6Z" fill="#000000" stroke="#000000" stroke-width="3.6" stroke-linejoin="miter"/><path d="M1771.5 127.6L1789.1 146.6L1771.5 165.6L1753.9 146.6Z" fill="#000000" stroke="#000000" stroke-width="3.6" stroke-linejoin="miter"/><path d="M1857.7 106L1875.3 125L1857.7 144L1840.1 125Z" fill="#000000" stroke="#000000" stroke-width="3.6" stroke-linejoin="miter"/>
<g fill="none" stroke="#000000"><path d="M414.5 334.8L456.3 341.8" stroke-width="4.14"/><path d="M500.5 350.4L542.7 359.6" stroke-width="4.10"/><path d="M586.8 368.8L628.8 377" stroke-width="4.12"/><path d="M673.2 384.5L714.8 390.4" stroke-width="4.16"/><path d="M759.6 394.4L800.8 396.1" stroke-width="4.20"/><path d="M845.8 396.4L887 395.3" stroke-width="4.20"/><path d="M932 393.7L973.2 392" stroke-width="4.20"/><path d="M1018 388.2L1059.6 383" stroke-width="4.17"/><path d="M1104 375.8L1146 367.6" stroke-width="4.12"/><path d="M1190.3 359.5L1232.1 352.4" stroke-width="4.14"/><path d="M1276.4 344.7L1318.4 337" stroke-width="4.13"/><path d="M1362.8 329.9L1404.4 324.1" stroke-width="4.16"/><path d="M1448.9 317.5L1490.7 311.1" stroke-width="4.15"/><path d="M1535.2 304.5L1576.8 298.6" stroke-width="4.16"/><path d="M1621.5 293L1662.9 288.3" stroke-width="4.17"/><path d="M1707.6 282.7L1749.2 276.8" stroke-width="4.16"/><path d="M1793.9 275.3L1835.3 278.4" stroke-width="4.19"/></g><path d="M392.3 312L409.9 331L392.3 350L374.7 331Z" fill="#fff"/><path d="M392.3 312L409.9 331L392.3 350L374.7 331Z" fill="none" stroke="#000000" stroke-width="3.6" stroke-linejoin="miter"/><path d="M478.5 326.6L496.1 345.6L478.5 364.6L460.9 345.6Z" fill="#fff"/><path d="M478.5 326.6L496.1 345.6L478.5 364.6L460.9 345.6Z" fill="none" stroke="#000000" stroke-width="3.6" stroke-linejoin="miter"/><path d="M564.7 345.4L582.3 364.4L564.7 383.4L547.1 364.4Z" fill="#fff"/><path d="M564.7 345.4L582.3 364.4L564.7 383.4L547.1 364.4Z" fill="none" stroke="#000000" stroke-width="3.6" stroke-linejoin="miter"/><path d="M650.9 362.4L668.5 381.4L650.9 400.4L633.3 381.4Z" fill="#fff"/><path d="M650.9 362.4L668.5 381.4L650.9 400.4L633.3 381.4Z" fill="none" stroke="#000000" stroke-width="3.6" stroke-linejoin="miter"/><path d="M737.1 374.5L754.7 393.5L737.1 412.5L719.5 393.5Z" fill="#fff"/><path d="M737.1 374.5L754.7 393.5L737.1 412.5L719.5 393.5Z" fill="none" stroke="#000000" stroke-width="3.6" stroke-linejoin="miter"/><path d="M823.3 378L840.9 397L823.3 416L805.7 397Z" fill="#fff"/><path d="M823.3 378L840.9 397L823.3 416L805.7 397Z" fill="none" stroke="#000000" stroke-width="3.6" stroke-linejoin="miter"/><path d="M909.5 375.7L927.1 394.7L909.5 413.7L891.9 394.7Z" fill="#fff"/><path d="M909.5 375.7L927.1 394.7L909.5 413.7L891.9 394.7Z" fill="none" stroke="#000000" stroke-width="3.6" stroke-linejoin="miter"/><path d="M995.7 372L1013.3 391L995.7 410L978.1 391Z" fill="#fff"/><path d="M995.7 372L1013.3 391L995.7 410L978.1 391Z" fill="none" stroke="#000000" stroke-width="3.6" stroke-linejoin="miter"/><path d="M1081.9 361.2L1099.5 380.2L1081.9 399.2L1064.3 380.2Z" fill="#fff"/><path d="M1081.9 361.2L1099.5 380.2L1081.9 399.2L1064.3 380.2Z" fill="none" stroke="#000000" stroke-width="3.6" stroke-linejoin="miter"/><path d="M1168.1 344.2L1185.7 363.2L1168.1 382.2L1150.5 363.2Z" fill="#fff"/><path d="M1168.1 344.2L1185.7 363.2L1168.1 382.2L1150.5 363.2Z" fill="none" stroke="#000000" stroke-width="3.6" stroke-linejoin="miter"/><path d="M1254.3 329.7L1271.9 348.7L1254.3 367.7L1236.7 348.7Z" fill="#fff"/><path d="M1254.3 329.7L1271.9 348.7L1254.3 367.7L1236.7 348.7Z" fill="none" stroke="#000000" stroke-width="3.6" stroke-linejoin="miter"/><path d="M1340.5 314L1358.1 333L1340.5 352L1322.9 333Z" fill="#fff"/><path d="M1340.5 314L1358.1 333L1340.5 352L1322.9 333Z" fill="none" stroke="#000000" stroke-width="3.6" stroke-linejoin="miter"/><path d="M1426.7 302L1444.3 321L1426.7 340L1409.1 321Z" fill="#fff"/><path d="M1426.7 302L1444.3 321L1426.7 340L1409.1 321Z" fill="none" stroke="#000000" stroke-width="3.6" stroke-linejoin="miter"/><path d="M1512.9 288.6L1530.5 307.6L1512.9 326.6L1495.3 307.6Z" fill="#fff"/><path d="M1512.9 288.6L1530.5 307.6L1512.9 326.6L1495.3 307.6Z" fill="none" stroke="#000000" stroke-width="3.6" stroke-linejoin="miter"/><path d="M1599.1 276.5L1616.7 295.5L1599.1 314.5L1581.5 295.5Z" fill="#fff"/><path d="M1599.1 276.5L1616.7 295.5L1599.1 314.5L1581.5 295.5Z" fill="none" stroke="#000000" stroke-width="3.6" stroke-linejoin="miter"/><path d="M1685.3 266.8L1702.9 285.8L1685.3 304.8L1667.7 285.8Z" fill="#fff"/><path d="M1685.3 266.8L1702.9 285.8L1685.3 304.8L1667.7 285.8Z" fill="none" stroke="#000000" stroke-width="3.6" stroke-linejoin="miter"/><path d="M1771.5 254.7L1789.1 273.7L1771.5 292.7L1753.9 273.7Z" fill="#fff"/><path d="M1771.5 254.7L1789.1 273.7L1771.5 292.7L1753.9 273.7Z" fill="none" stroke="#000000" stroke-width="3.6" stroke-linejoin="miter"/><path d="M1857.7 261L1875.3 280L1857.7 299L1840.1 280Z" fill="#fff"/><path d="M1857.7 261L1875.3 280L1857.7 299L1840.1 280Z" fill="none" stroke="#000000" stroke-width="3.6" stroke-linejoin="miter"/>
<g fill="none" stroke="#ff0000"><path d="M412.1 595L458.7 620.4" stroke-width="3.69"/><path d="M498.2 642L545 667.6" stroke-width="3.68"/><path d="M584.8 688.6L630.8 711.8" stroke-width="3.75"/><path d="M670.6 732.8L717.4 758.4" stroke-width="3.68"/><path d="M757.1 779.5L803.3 803.4" stroke-width="3.73"/><path d="M843.2 824.2L889.6 848.8" stroke-width="3.71"/><path d="M929.6 869.5L975.6 892.7" stroke-width="3.75"/><path d="M1015.6 913.5L1062 938.3" stroke-width="3.71"/><path d="M1101.8 959.5L1148.2 984.3" stroke-width="3.71"/><path d="M1188.1 1005.3L1234.3 1029.3" stroke-width="3.73"/><path d="M1274.2 1050.1L1320.6 1074.4" stroke-width="3.72"/><path d="M1360.6 1094.9L1406.6 1118.1" stroke-width="3.75"/><path d="M1446.8 1138.3L1492.8 1161.4" stroke-width="3.75"/><path d="M1533.2 1181.2L1578.8 1203" stroke-width="3.79"/><path d="M1618.9 1223.4L1665.5 1248.5" stroke-width="3.70"/><path d="M1707 1265.3L1749.8 1277.3" stroke-width="4.04"/><path d="M1794 1283.4L1835.2 1283.4" stroke-width="4.20"/></g><circle cx="392.3" cy="584.2" r="14.4" fill="#fff"/><path d="M392.3 569.8A14.4 14.4 0 0 1 392.3 598.6Z" fill="#ff0000"/><line x1="392.3" y1="569.8" x2="392.3" y2="598.6" stroke="#ff0000" stroke-width="3.6"/><circle cx="392.3" cy="584.2" r="14.4" fill="none" stroke="#ff0000" stroke-width="3.6"/><circle cx="478.5" cy="631.2" r="14.4" fill="#fff"/><path d="M478.5 616.8A14.4 14.4 0 0 1 478.5 645.6Z" fill="#ff0000"/><line x1="478.5" y1="616.8" x2="478.5" y2="645.6" stroke="#ff0000" stroke-width="3.6"/><circle cx="478.5" cy="631.2" r="14.4" fill="none" stroke="#ff0000" stroke-width="3.6"/><circle cx="564.7" cy="678.4" r="14.4" fill="#fff"/><path d="M564.7 664A14.4 14.4 0 0 1 564.7 692.8Z" fill="#ff0000"/><line x1="564.7" y1="664" x2="564.7" y2="692.8" stroke="#ff0000" stroke-width="3.6"/><circle cx="564.7" cy="678.4" r="14.4" fill="none" stroke="#ff0000" stroke-width="3.6"/><circle cx="650.9" cy="722" r="14.4" fill="#fff"/><path d="M650.9 707.6A14.4 14.4 0 0 1 650.9 736.4Z" fill="#ff0000"/><line x1="650.9" y1="707.6" x2="650.9" y2="736.4" stroke="#ff0000" stroke-width="3.6"/><circle cx="650.9" cy="722" r="14.4" fill="none" stroke="#ff0000" stroke-width="3.6"/><circle cx="737.1" cy="769.2" r="14.4" fill="#fff"/><path d="M737.1 754.8A14.4 14.4 0 0 1 737.1 783.6Z" fill="#ff0000"/><line x1="737.1" y1="754.8" x2="737.1" y2="783.6" stroke="#ff0000" stroke-width="3.6"/><circle cx="737.1" cy="769.2" r="14.4" fill="none" stroke="#ff0000" stroke-width="3.6"/><circle cx="823.3" cy="813.7" r="14.4" fill="#fff"/><path d="M823.3 799.3A14.4 14.4 0 0 1 823.3 828.1Z" fill="#ff0000"/><line x1="823.3" y1="799.3" x2="823.3" y2="828.1" stroke="#ff0000" stroke-width="3.6"/><circle cx="823.3" cy="813.7" r="14.4" fill="none" stroke="#ff0000" stroke-width="3.6"/><circle cx="909.5" cy="859.3" r="14.4" fill="#fff"/><path d="M909.5 844.9A14.4 14.4 0 0 1 909.5 873.7Z" fill="#ff0000"/><line x1="909.5" y1="844.9" x2="909.5" y2="873.7" stroke="#ff0000" stroke-width="3.6"/><circle cx="909.5" cy="859.3" r="14.4" fill="none" stroke="#ff0000" stroke-width="3.6"/><circle cx="995.7" cy="902.9" r="14.4" fill="#fff"/><path d="M995.7 888.5A14.4 14.4 0 0 1 995.7 917.3Z" fill="#ff0000"/><line x1="995.7" y1="888.5" x2="995.7" y2="917.3" stroke="#ff0000" stroke-width="3.6"/><circle cx="995.7" cy="902.9" r="14.4" fill="none" stroke="#ff0000" stroke-width="3.6"/><circle cx="1081.9" cy="948.9" r="14.4" fill="#fff"/><path d="M1081.9 934.5A14.4 14.4 0 0 1 1081.9 963.3Z" fill="#ff0000"/><line x1="1081.9" y1="934.5" x2="1081.9" y2="963.3" stroke="#ff0000" stroke-width="3.6"/><circle cx="1081.9" cy="948.9" r="14.4" fill="none" stroke="#ff0000" stroke-width="3.6"/><circle cx="1168.1" cy="994.9" r="14.4" fill="#fff"/><path d="M1168.1 980.5A14.4 14.4 0 0 1 1168.1 1009.3Z" fill="#ff0000"/><line x1="1168.1" y1="980.5" x2="1168.1" y2="1009.3" stroke="#ff0000" stroke-width="3.6"/><circle cx="1168.1" cy="994.9" r="14.4" fill="none" stroke="#ff0000" stroke-width="3.6"/><circle cx="1254.3" cy="1039.7" r="14.4" fill="#fff"/><path d="M1254.3 1025.3A14.4 14.4 0 0 1 1254.3 1054.1Z" fill="#ff0000"/><line x1="1254.3" y1="1025.3" x2="1254.3" y2="1054.1" stroke="#ff0000" stroke-width="3.6"/><circle cx="1254.3" cy="1039.7" r="14.4" fill="none" stroke="#ff0000" stroke-width="3.6"/><circle cx="1340.5" cy="1084.8" r="14.4" fill="#fff"/><path d="M1340.5 1070.4A14.4 14.4 0 0 1 1340.5 1099.2Z" fill="#ff0000"/><line x1="1340.5" y1="1070.4" x2="1340.5" y2="1099.2" stroke="#ff0000" stroke-width="3.6"/><circle cx="1340.5" cy="1084.8" r="14.4" fill="none" stroke="#ff0000" stroke-width="3.6"/><circle cx="1426.7" cy="1128.2" r="14.4" fill="#fff"/><path d="M1426.7 1113.8A14.4 14.4 0 0 1 1426.7 1142.6Z" fill="#ff0000"/><line x1="1426.7" y1="1113.8" x2="1426.7" y2="1142.6" stroke="#ff0000" stroke-width="3.6"/><circle cx="1426.7" cy="1128.2" r="14.4" fill="none" stroke="#ff0000" stroke-width="3.6"/><circle cx="1512.9" cy="1171.5" r="14.4" fill="#fff"/><path d="M1512.9 1157.1A14.4 14.4 0 0 1 1512.9 1185.9Z" fill="#ff0000"/><line x1="1512.9" y1="1157.1" x2="1512.9" y2="1185.9" stroke="#ff0000" stroke-width="3.6"/><circle cx="1512.9" cy="1171.5" r="14.4" fill="none" stroke="#ff0000" stroke-width="3.6"/><circle cx="1599.1" cy="1212.7" r="14.4" fill="#fff"/><path d="M1599.1 1198.3A14.4 14.4 0 0 1 1599.1 1227.1Z" fill="#ff0000"/><line x1="1599.1" y1="1198.3" x2="1599.1" y2="1227.1" stroke="#ff0000" stroke-width="3.6"/><circle cx="1599.1" cy="1212.7" r="14.4" fill="none" stroke="#ff0000" stroke-width="3.6"/><circle cx="1685.3" cy="1259.2" r="14.4" fill="#fff"/><path d="M1685.3 1244.8A14.4 14.4 0 0 1 1685.3 1273.6Z" fill="#ff0000"/><line x1="1685.3" y1="1244.8" x2="1685.3" y2="1273.6" stroke="#ff0000" stroke-width="3.6"/><circle cx="1685.3" cy="1259.2" r="14.4" fill="none" stroke="#ff0000" stroke-width="3.6"/><circle cx="1771.5" cy="1283.4" r="14.4" fill="#fff"/><path d="M1771.5 1269A14.4 14.4 0 0 1 1771.5 1297.8Z" fill="#ff0000"/><line x1="1771.5" y1="1269" x2="1771.5" y2="1297.8" stroke="#ff0000" stroke-width="3.6"/><circle cx="1771.5" cy="1283.4" r="14.4" fill="none" stroke="#ff0000" stroke-width="3.6"/><circle cx="1857.7" cy="1283.4" r="14.4" fill="#fff"/><path d="M1857.7 1269A14.4 14.4 0 0 1 1857.7 1297.8Z" fill="#ff0000"/><line x1="1857.7" y1="1269" x2="1857.7" y2="1297.8" stroke="#ff0000" stroke-width="3.6"/><circle cx="1857.7" cy="1283.4" r="14.4" fill="none" stroke="#ff0000" stroke-width="3.6"/>
<g fill="none" stroke="#0000ff"><path d="M412.2 334.6L458.6 359.3" stroke-width="3.71"/><path d="M498.1 380.9L545.1 407.6" stroke-width="3.65"/><path d="M584.6 429.3L631 453.9" stroke-width="3.71"/><path d="M670.8 475L717.2 499.7" stroke-width="3.71"/><path d="M757 520.8L803.4 545.6" stroke-width="3.71"/><path d="M843.2 566.8L889.6 591.6" stroke-width="3.71"/><path d="M929.5 612.6L975.7 636.6" stroke-width="3.73"/><path d="M1015.8 657.1L1061.8 680.4" stroke-width="3.75"/><path d="M1101.9 700.9L1148.1 724.9" stroke-width="3.73"/><path d="M1188.3 745.2L1234.1 767.8" stroke-width="3.77"/><path d="M1274.6 787.3L1320.2 808.9" stroke-width="3.80"/><path d="M1360.7 828.4L1406.5 850.6" stroke-width="3.78"/><path d="M1447.2 869.7L1492.4 890.1" stroke-width="3.83"/><path d="M1533.4 908.5L1578.6 928.8" stroke-width="3.83"/><path d="M1619.9 946.5L1664.5 964.6" stroke-width="3.89"/><path d="M1706.1 981.6L1750.7 999.7" stroke-width="3.89"/><path d="M1792.9 1015L1836.3 1028.7" stroke-width="4.00"/></g><path d="M379.1 310.9L405.5 310.9L405.5 337.3L379.1 337.3Z" fill="#fff"/><path d="M392.3 310.9L405.5 310.9L405.5 337.3L392.3 337.3Z" fill="#0000ff" stroke="#0000ff" stroke-width="2.16"/><path d="M379.1 310.9L405.5 310.9L405.5 337.3L379.1 337.3Z" fill="none" stroke="#0000ff" stroke-width="3.6" stroke-linejoin="miter"/><path d="M465.3 356.6L491.7 356.6L491.7 383L465.3 383Z" fill="#fff"/><path d="M478.5 356.6L491.7 356.6L491.7 383L478.5 383Z" fill="#0000ff" stroke="#0000ff" stroke-width="2.16"/><path d="M465.3 356.6L491.7 356.6L491.7 383L465.3 383Z" fill="none" stroke="#0000ff" stroke-width="3.6" stroke-linejoin="miter"/><path d="M551.5 405.5L577.9 405.5L577.9 431.9L551.5 431.9Z" fill="#fff"/><path d="M564.7 405.5L577.9 405.5L577.9 431.9L564.7 431.9Z" fill="#0000ff" stroke="#0000ff" stroke-width="2.16"/><path d="M551.5 405.5L577.9 405.5L577.9 431.9L551.5 431.9Z" fill="none" stroke="#0000ff" stroke-width="3.6" stroke-linejoin="miter"/><path d="M637.7 451.3L664.1 451.3L664.1 477.7L637.7 477.7Z" fill="#fff"/><path d="M650.9 451.3L664.1 451.3L664.1 477.7L650.9 477.7Z" fill="#0000ff" stroke="#0000ff" stroke-width="2.16"/><path d="M637.7 451.3L664.1 451.3L664.1 477.7L637.7 477.7Z" fill="none" stroke="#0000ff" stroke-width="3.6" stroke-linejoin="miter"/><path d="M723.9 497L750.3 497L750.3 523.4L723.9 523.4Z" fill="#fff"/><path d="M737.1 497L750.3 497L750.3 523.4L737.1 523.4Z" fill="#0000ff" stroke="#0000ff" stroke-width="2.16"/><path d="M723.9 497L750.3 497L750.3 523.4L723.9 523.4Z" fill="none" stroke="#0000ff" stroke-width="3.6" stroke-linejoin="miter"/><path d="M810.1 543L836.5 543L836.5 569.4L810.1 569.4Z" fill="#fff"/><path d="M823.3 543L836.5 543L836.5 569.4L823.3 569.4Z" fill="#0000ff" stroke="#0000ff" stroke-width="2.16"/><path d="M810.1 543L836.5 543L836.5 569.4L810.1 569.4Z" fill="none" stroke="#0000ff" stroke-width="3.6" stroke-linejoin="miter"/><path d="M896.3 589L922.7 589L922.7 615.4L896.3 615.4Z" fill="#fff"/><path d="M909.5 589L922.7 589L922.7 615.4L909.5 615.4Z" fill="#0000ff" stroke="#0000ff" stroke-width="2.16"/><path d="M896.3 589L922.7 589L922.7 615.4L896.3 615.4Z" fill="none" stroke="#0000ff" stroke-width="3.6" stroke-linejoin="miter"/><path d="M982.5 633.8L1008.9 633.8L1008.9 660.2L982.5 660.2Z" fill="#fff"/><path d="M995.7 633.8L1008.9 633.8L1008.9 660.2L995.7 660.2Z" fill="#0000ff" stroke="#0000ff" stroke-width="2.16"/><path d="M982.5 633.8L1008.9 633.8L1008.9 660.2L982.5 660.2Z" fill="none" stroke="#0000ff" stroke-width="3.6" stroke-linejoin="miter"/><path d="M1068.7 677.3L1095.1 677.3L1095.1 703.7L1068.7 703.7Z" fill="#fff"/><path d="M1081.9 677.3L1095.1 677.3L1095.1 703.7L1081.9 703.7Z" fill="#0000ff" stroke="#0000ff" stroke-width="2.16"/><path d="M1068.7 677.3L1095.1 677.3L1095.1 703.7L1068.7 703.7Z" fill="none" stroke="#0000ff" stroke-width="3.6" stroke-linejoin="miter"/><path d="M1154.9 722.1L1181.3 722.1L1181.3 748.5L1154.9 748.5Z" fill="#fff"/><path d="M1168.1 722.1L1181.3 722.1L1181.3 748.5L1168.1 748.5Z" fill="#0000ff" stroke="#0000ff" stroke-width="2.16"/><path d="M1154.9 722.1L1181.3 722.1L1181.3 748.5L1154.9 748.5Z" fill="none" stroke="#0000ff" stroke-width="3.6" stroke-linejoin="miter"/><path d="M1241.1 764.5L1267.5 764.5L1267.5 790.9L1241.1 790.9Z" fill="#fff"/><path d="M1254.3 764.5L1267.5 764.5L1267.5 790.9L1254.3 790.9Z" fill="#0000ff" stroke="#0000ff" stroke-width="2.16"/><path d="M1241.1 764.5L1267.5 764.5L1267.5 790.9L1241.1 790.9Z" fill="none" stroke="#0000ff" stroke-width="3.6" stroke-linejoin="miter"/><path d="M1327.3 805.3L1353.7 805.3L1353.7 831.7L1327.3 831.7Z" fill="#fff"/><path d="M1340.5 805.3L1353.7 805.3L1353.7 831.7L1340.5 831.7Z" fill="#0000ff" stroke="#0000ff" stroke-width="2.16"/><path d="M1327.3 805.3L1353.7 805.3L1353.7 831.7L1327.3 831.7Z" fill="none" stroke="#0000ff" stroke-width="3.6" stroke-linejoin="miter"/><path d="M1413.5 847.3L1439.9 847.3L1439.9 873.7L1413.5 873.7Z" fill="#fff"/><path d="M1426.7 847.3L1439.9 847.3L1439.9 873.7L1426.7 873.7Z" fill="#0000ff" stroke="#0000ff" stroke-width="2.16"/><path d="M1413.5 847.3L1439.9 847.3L1439.9 873.7L1413.5 873.7Z" fill="none" stroke="#0000ff" stroke-width="3.6" stroke-linejoin="miter"/><path d="M1499.7 886.1L1526.1 886.1L1526.1 912.5L1499.7 912.5Z" fill="#fff"/><path d="M1512.9 886.1L1526.1 886.1L1526.1 912.5L1512.9 912.5Z" fill="#0000ff" stroke="#0000ff" stroke-width="2.16"/><path d="M1499.7 886.1L1526.1 886.1L1526.1 912.5L1499.7 912.5Z" fill="none" stroke="#0000ff" stroke-width="3.6" stroke-linejoin="miter"/><path d="M1585.9 924.8L1612.3 924.8L1612.3 951.2L1585.9 951.2Z" fill="#fff"/><path d="M1599.1 924.8L1612.3 924.8L1612.3 951.2L1599.1 951.2Z" fill="#0000ff" stroke="#0000ff" stroke-width="2.16"/><path d="M1585.9 924.8L1612.3 924.8L1612.3 951.2L1585.9 951.2Z" fill="none" stroke="#0000ff" stroke-width="3.6" stroke-linejoin="miter"/><path d="M1672.1 959.9L1698.5 959.9L1698.5 986.3L1672.1 986.3Z" fill="#fff"/><path d="M1685.3 959.9L1698.5 959.9L1698.5 986.3L1685.3 986.3Z" fill="#0000ff" stroke="#0000ff" stroke-width="2.16"/><path d="M1672.1 959.9L1698.5 959.9L1698.5 986.3L1672.1 986.3Z" fill="none" stroke="#0000ff" stroke-width="3.6" stroke-linejoin="miter"/><path d="M1758.3 995L1784.7 995L1784.7 1021.4L1758.3 1021.4Z" fill="#fff"/><path d="M1771.5 995L1784.7 995L1784.7 1021.4L1771.5 1021.4Z" fill="#0000ff" stroke="#0000ff" stroke-width="2.16"/><path d="M1758.3 995L1784.7 995L1784.7 1021.4L1758.3 1021.4Z" fill="none" stroke="#0000ff" stroke-width="3.6" stroke-linejoin="miter"/><path d="M1844.5 1022.3L1870.9 1022.3L1870.9 1048.7L1844.5 1048.7Z" fill="#fff"/><path d="M1857.7 1022.3L1870.9 1022.3L1870.9 1048.7L1857.7 1048.7Z" fill="#0000ff" stroke="#0000ff" stroke-width="2.16"/><path d="M1844.5 1022.3L1870.9 1022.3L1870.9 1048.7L1844.5 1048.7Z" fill="none" stroke="#0000ff" stroke-width="3.6" stroke-linejoin="miter"/>
<g fill="none" stroke="#00ff00"><path d="M412.2 432.9L458.6 457.5" stroke-width="3.71"/><path d="M498.5 478.2L544.7 501.9" stroke-width="3.74"/><path d="M584.7 522.5L630.9 546.5" stroke-width="3.73"/><path d="M670.8 567.5L717.2 592.2" stroke-width="3.71"/><path d="M757.2 613L803.2 636.3" stroke-width="3.75"/><path d="M843.2 656.9L889.6 681.1" stroke-width="3.72"/><path d="M930 700.8L975.2 721.2" stroke-width="3.83"/><path d="M1015 742L1062.6 770.5" stroke-width="3.61"/><path d="M1101.9 792.3L1148.1 816.1" stroke-width="3.73"/><path d="M1188 836.9L1234.4 861.6" stroke-width="3.71"/><path d="M1274.4 882.2L1320.4 905.4" stroke-width="3.75"/><path d="M1360.4 925.9L1406.8 950.1" stroke-width="3.72"/><path d="M1446.6 971.1L1493 995.9" stroke-width="3.71"/><path d="M1533.1 1016.4L1578.9 1038.9" stroke-width="3.77"/><path d="M1618.7 1059.8L1665.7 1086" stroke-width="3.67"/><path d="M1705.8 1106.4L1751 1127.1" stroke-width="3.82"/><path d="M1792.2 1145.4L1837 1164.6" stroke-width="3.86"/></g><path d="M392.3 400.7L410.3 433.2L374.3 433.2Z" fill="#fff"/><path d="M392.3 400.7L410.3 433.2L392.3 433.2Z" fill="#00ff00" stroke="#00ff00" stroke-width="2.16"/><path d="M392.3 400.7L410.3 433.2L374.3 433.2Z" fill="none" stroke="#00ff00" stroke-width="3.6" stroke-linejoin="miter"/><path d="M478.5 446.3L496.5 478.8L460.5 478.8Z" fill="#fff"/><path d="M478.5 446.3L496.5 478.8L478.5 478.8Z" fill="#00ff00" stroke="#00ff00" stroke-width="2.16"/><path d="M478.5 446.3L496.5 478.8L460.5 478.8Z" fill="none" stroke="#00ff00" stroke-width="3.6" stroke-linejoin="miter"/><path d="M564.7 490.4L582.7 522.9L546.7 522.9Z" fill="#fff"/><path d="M564.7 490.4L582.7 522.9L564.7 522.9Z" fill="#00ff00" stroke="#00ff00" stroke-width="2.16"/><path d="M564.7 490.4L582.7 522.9L546.7 522.9Z" fill="none" stroke="#00ff00" stroke-width="3.6" stroke-linejoin="miter"/><path d="M650.9 535.2L668.9 567.7L632.9 567.7Z" fill="#fff"/><path d="M650.9 535.2L668.9 567.7L650.9 567.7Z" fill="#00ff00" stroke="#00ff00" stroke-width="2.16"/><path d="M650.9 535.2L668.9 567.7L632.9 567.7Z" fill="none" stroke="#00ff00" stroke-width="3.6" stroke-linejoin="miter"/><path d="M737.1 581.1L755.1 613.6L719.1 613.6Z" fill="#fff"/><path d="M737.1 581.1L755.1 613.6L737.1 613.6Z" fill="#00ff00" stroke="#00ff00" stroke-width="2.16"/><path d="M737.1 581.1L755.1 613.6L719.1 613.6Z" fill="none" stroke="#00ff00" stroke-width="3.6" stroke-linejoin="miter"/><path d="M823.3 624.8L841.3 657.3L805.3 657.3Z" fill="#fff"/><path d="M823.3 624.8L841.3 657.3L823.3 657.3Z" fill="#00ff00" stroke="#00ff00" stroke-width="2.16"/><path d="M823.3 624.8L841.3 657.3L805.3 657.3Z" fill="none" stroke="#00ff00" stroke-width="3.6" stroke-linejoin="miter"/><path d="M909.5 669.8L927.5 702.3L891.5 702.3Z" fill="#fff"/><path d="M909.5 669.8L927.5 702.3L909.5 702.3Z" fill="#00ff00" stroke="#00ff00" stroke-width="2.16"/><path d="M909.5 669.8L927.5 702.3L891.5 702.3Z" fill="none" stroke="#00ff00" stroke-width="3.6" stroke-linejoin="miter"/><path d="M995.7 708.8L1013.7 741.3L977.7 741.3Z" fill="#fff"/><path d="M995.7 708.8L1013.7 741.3L995.7 741.3Z" fill="#00ff00" stroke="#00ff00" stroke-width="2.16"/><path d="M995.7 708.8L1013.7 741.3L977.7 741.3Z" fill="none" stroke="#00ff00" stroke-width="3.6" stroke-linejoin="miter"/><path d="M1081.9 760.3L1099.9 792.8L1063.9 792.8Z" fill="#fff"/><path d="M1081.9 760.3L1099.9 792.8L1081.9 792.8Z" fill="#00ff00" stroke="#00ff00" stroke-width="2.16"/><path d="M1081.9 760.3L1099.9 792.8L1063.9 792.8Z" fill="none" stroke="#00ff00" stroke-width="3.6" stroke-linejoin="miter"/><path d="M1168.1 804.7L1186.1 837.2L1150.1 837.2Z" fill="#fff"/><path d="M1168.1 804.7L1186.1 837.2L1168.1 837.2Z" fill="#00ff00" stroke="#00ff00" stroke-width="2.16"/><path d="M1168.1 804.7L1186.1 837.2L1150.1 837.2Z" fill="none" stroke="#00ff00" stroke-width="3.6" stroke-linejoin="miter"/><path d="M1254.3 850.4L1272.3 882.9L1236.3 882.9Z" fill="#fff"/><path d="M1254.3 850.4L1272.3 882.9L1254.3 882.9Z" fill="#00ff00" stroke="#00ff00" stroke-width="2.16"/><path d="M1254.3 850.4L1272.3 882.9L1236.3 882.9Z" fill="none" stroke="#00ff00" stroke-width="3.6" stroke-linejoin="miter"/><path d="M1340.5 893.8L1358.5 926.3L1322.5 926.3Z" fill="#fff"/><path d="M1340.5 893.8L1358.5 926.3L1340.5 926.3Z" fill="#00ff00" stroke="#00ff00" stroke-width="2.16"/><path d="M1340.5 893.8L1358.5 926.3L1322.5 926.3Z" fill="none" stroke="#00ff00" stroke-width="3.6" stroke-linejoin="miter"/><path d="M1426.7 938.8L1444.7 971.3L1408.7 971.3Z" fill="#fff"/><path d="M1426.7 938.8L1444.7 971.3L1426.7 971.3Z" fill="#00ff00" stroke="#00ff00" stroke-width="2.16"/><path d="M1426.7 938.8L1444.7 971.3L1408.7 971.3Z" fill="none" stroke="#00ff00" stroke-width="3.6" stroke-linejoin="miter"/><path d="M1512.9 984.8L1530.9 1017.3L1494.9 1017.3Z" fill="#fff"/><path d="M1512.9 984.8L1530.9 1017.3L1512.9 1017.3Z" fill="#00ff00" stroke="#00ff00" stroke-width="2.16"/><path d="M1512.9 984.8L1530.9 1017.3L1494.9 1017.3Z" fill="none" stroke="#00ff00" stroke-width="3.6" stroke-linejoin="miter"/><path d="M1599.1 1027.1L1617.1 1059.6L1581.1 1059.6Z" fill="#fff"/><path d="M1599.1 1027.1L1617.1 1059.6L1599.1 1059.6Z" fill="#00ff00" stroke="#00ff00" stroke-width="2.16"/><path d="M1599.1 1027.1L1617.1 1059.6L1581.1 1059.6Z" fill="none" stroke="#00ff00" stroke-width="3.6" stroke-linejoin="miter"/><path d="M1685.3 1075.3L1703.3 1107.8L1667.3 1107.8Z" fill="#fff"/><path d="M1685.3 1075.3L1703.3 1107.8L1685.3 1107.8Z" fill="#00ff00" stroke="#00ff00" stroke-width="2.16"/><path d="M1685.3 1075.3L1703.3 1107.8L1667.3 1107.8Z" fill="none" stroke="#00ff00" stroke-width="3.6" stroke-linejoin="miter"/><path d="M1771.5 1114.8L1789.5 1147.3L1753.5 1147.3Z" fill="#fff"/><path d="M1771.5 1114.8L1789.5 1147.3L1771.5 1147.3Z" fill="#00ff00" stroke="#00ff00" stroke-width="2.16"/><path d="M1771.5 1114.8L1789.5 1147.3L1753.5 1147.3Z" fill="none" stroke="#00ff00" stroke-width="3.6" stroke-linejoin="miter"/><path d="M1857.7 1151.8L1875.7 1184.3L1839.7 1184.3Z" fill="#fff"/><path d="M1857.7 1151.8L1875.7 1184.3L1857.7 1184.3Z" fill="#00ff00" stroke="#00ff00" stroke-width="2.16"/><path d="M1857.7 1151.8L1875.7 1184.3L1839.7 1184.3Z" fill="none" stroke="#00ff00" stroke-width="3.6" stroke-linejoin="miter"/>
<g fill="none" stroke="#ff00ff"><path d="M411.9 157.1L458.9 183.9" stroke-width="3.65"/><path d="M498.2 205.8L545 231.4" stroke-width="3.68"/><path d="M584.6 252.8L631 277.6" stroke-width="3.71"/><path d="M670.2 299.8L717.8 328.4" stroke-width="3.60"/><path d="M757.1 350.2L803.3 373.8" stroke-width="3.74"/><path d="M843.3 394.3L889.5 418.3" stroke-width="3.73"/><path d="M929.4 439.1L975.8 463.5" stroke-width="3.72"/><path d="M1015.8 484.1L1061.8 507.4" stroke-width="3.75"/><path d="M1101.9 527.9L1148.1 551.8" stroke-width="3.73"/><path d="M1188.1 572.6L1234.3 596.6" stroke-width="3.73"/><path d="M1274.5 616.9L1320.3 639.5" stroke-width="3.77"/><path d="M1361.1 658.4L1406.1 678" stroke-width="3.85"/><path d="M1446.8 697.2L1492.8 720.4" stroke-width="3.75"/><path d="M1533.2 740.3L1578.8 762" stroke-width="3.79"/><path d="M1619.4 781.4L1665 803.2" stroke-width="3.79"/><path d="M1705.9 822L1750.9 841.7" stroke-width="3.84"/><path d="M1793.1 857L1836.1 869.4" stroke-width="4.04"/></g><path d="M380.8 128.2L409.8 146L380.8 163.8Z" fill="#fff"/><path d="M380.8 128.2L409.8 146L380.8 146Z" fill="#ff00ff" stroke="#ff00ff" stroke-width="2.16"/><path d="M380.8 128.2L409.8 146L380.8 163.8Z" fill="none" stroke="#ff00ff" stroke-width="3.6" stroke-linejoin="miter"/><path d="M467 177.2L496 195L467 212.8Z" fill="#fff"/><path d="M467 177.2L496 195L467 195Z" fill="#ff00ff" stroke="#ff00ff" stroke-width="2.16"/><path d="M467 177.2L496 195L467 212.8Z" fill="none" stroke="#ff00ff" stroke-width="3.6" stroke-linejoin="miter"/><path d="M553.2 224.4L582.2 242.2L553.2 260Z" fill="#fff"/><path d="M553.2 224.4L582.2 242.2L553.2 242.2Z" fill="#ff00ff" stroke="#ff00ff" stroke-width="2.16"/><path d="M553.2 224.4L582.2 242.2L553.2 260Z" fill="none" stroke="#ff00ff" stroke-width="3.6" stroke-linejoin="miter"/><path d="M639.4 270.4L668.4 288.2L639.4 306Z" fill="#fff"/><path d="M639.4 270.4L668.4 288.2L639.4 288.2Z" fill="#ff00ff" stroke="#ff00ff" stroke-width="2.16"/><path d="M639.4 270.4L668.4 288.2L639.4 306Z" fill="none" stroke="#ff00ff" stroke-width="3.6" stroke-linejoin="miter"/><path d="M725.6 322.2L754.6 340L725.6 357.8Z" fill="#fff"/><path d="M725.6 322.2L754.6 340L725.6 340Z" fill="#ff00ff" stroke="#ff00ff" stroke-width="2.16"/><path d="M725.6 322.2L754.6 340L725.6 357.8Z" fill="none" stroke="#ff00ff" stroke-width="3.6" stroke-linejoin="miter"/><path d="M811.8 366.2L840.8 384L811.8 401.8Z" fill="#fff"/><path d="M811.8 366.2L840.8 384L811.8 384Z" fill="#ff00ff" stroke="#ff00ff" stroke-width="2.16"/><path d="M811.8 366.2L840.8 384L811.8 401.8Z" fill="none" stroke="#ff00ff" stroke-width="3.6" stroke-linejoin="miter"/><path d="M898 410.8L927 428.6L898 446.4Z" fill="#fff"/><path d="M898 410.8L927 428.6L898 428.6Z" fill="#ff00ff" stroke="#ff00ff" stroke-width="2.16"/><path d="M898 410.8L927 428.6L898 446.4Z" fill="none" stroke="#ff00ff" stroke-width="3.6" stroke-linejoin="miter"/><path d="M984.2 456.2L1013.2 474L984.2 491.8Z" fill="#fff"/><path d="M984.2 456.2L1013.2 474L984.2 474Z" fill="#ff00ff" stroke="#ff00ff" stroke-width="2.16"/><path d="M984.2 456.2L1013.2 474L984.2 491.8Z" fill="none" stroke="#ff00ff" stroke-width="3.6" stroke-linejoin="miter"/><path d="M1070.4 499.7L1099.4 517.5L1070.4 535.3Z" fill="#fff"/><path d="M1070.4 499.7L1099.4 517.5L1070.4 517.5Z" fill="#ff00ff" stroke="#ff00ff" stroke-width="2.16"/><path d="M1070.4 499.7L1099.4 517.5L1070.4 535.3Z" fill="none" stroke="#ff00ff" stroke-width="3.6" stroke-linejoin="miter"/><path d="M1156.6 544.4L1185.6 562.2L1156.6 580Z" fill="#fff"/><path d="M1156.6 544.4L1185.6 562.2L1156.6 562.2Z" fill="#ff00ff" stroke="#ff00ff" stroke-width="2.16"/><path d="M1156.6 544.4L1185.6 562.2L1156.6 580Z" fill="none" stroke="#ff00ff" stroke-width="3.6" stroke-linejoin="miter"/><path d="M1242.8 589.2L1271.8 607L1242.8 624.8Z" fill="#fff"/><path d="M1242.8 589.2L1271.8 607L1242.8 607Z" fill="#ff00ff" stroke="#ff00ff" stroke-width="2.16"/><path d="M1242.8 589.2L1271.8 607L1242.8 624.8Z" fill="none" stroke="#ff00ff" stroke-width="3.6" stroke-linejoin="miter"/><path d="M1329 631.6L1358 649.4L1329 667.2Z" fill="#fff"/><path d="M1329 631.6L1358 649.4L1329 649.4Z" fill="#ff00ff" stroke="#ff00ff" stroke-width="2.16"/><path d="M1329 631.6L1358 649.4L1329 667.2Z" fill="none" stroke="#ff00ff" stroke-width="3.6" stroke-linejoin="miter"/><path d="M1415.2 669.2L1444.2 687L1415.2 704.8Z" fill="#fff"/><path d="M1415.2 669.2L1444.2 687L1415.2 687Z" fill="#ff00ff" stroke="#ff00ff" stroke-width="2.16"/><path d="M1415.2 669.2L1444.2 687L1415.2 704.8Z" fill="none" stroke="#ff00ff" stroke-width="3.6" stroke-linejoin="miter"/><path d="M1501.4 712.8L1530.4 730.6L1501.4 748.4Z" fill="#fff"/><path d="M1501.4 712.8L1530.4 730.6L1501.4 730.6Z" fill="#ff00ff" stroke="#ff00ff" stroke-width="2.16"/><path d="M1501.4 712.8L1530.4 730.6L1501.4 748.4Z" fill="none" stroke="#ff00ff" stroke-width="3.6" stroke-linejoin="miter"/><path d="M1587.6 753.9L1616.6 771.7L1587.6 789.5Z" fill="#fff"/><path d="M1587.6 753.9L1616.6 771.7L1587.6 771.7Z" fill="#ff00ff" stroke="#ff00ff" stroke-width="2.16"/><path d="M1587.6 753.9L1616.6 771.7L1587.6 789.5Z" fill="none" stroke="#ff00ff" stroke-width="3.6" stroke-linejoin="miter"/><path d="M1673.8 795.1L1702.8 812.9L1673.8 830.7Z" fill="#fff"/><path d="M1673.8 795.1L1702.8 812.9L1673.8 812.9Z" fill="#ff00ff" stroke="#ff00ff" stroke-width="2.16"/><path d="M1673.8 795.1L1702.8 812.9L1673.8 830.7Z" fill="none" stroke="#ff00ff" stroke-width="3.6" stroke-linejoin="miter"/><path d="M1760 833L1789 850.8L1760 868.6Z" fill="#fff"/><path d="M1760 833L1789 850.8L1760 850.8Z" fill="#ff00ff" stroke="#ff00ff" stroke-width="2.16"/><path d="M1760 833L1789 850.8L1760 868.6Z" fill="none" stroke="#ff00ff" stroke-width="3.6" stroke-linejoin="miter"/><path d="M1846.2 857.8L1875.2 875.6L1846.2 893.4Z" fill="#fff"/><path d="M1846.2 857.8L1875.2 875.6L1846.2 875.6Z" fill="#ff00ff" stroke="#ff00ff" stroke-width="2.16"/><path d="M1846.2 857.8L1875.2 875.6L1846.2 893.4Z" fill="none" stroke="#ff00ff" stroke-width="3.6" stroke-linejoin="miter"/>
<g fill="none" stroke="#000000"><path d="M411.6 184.5L459.2 213" stroke-width="3.61"/><path d="M498.2 235.4L545 261.5" stroke-width="3.67"/><path d="M584.4 283.2L631.2 308.9" stroke-width="3.68"/><path d="M670.7 330.4L717.3 355.6" stroke-width="3.69"/><path d="M756.9 377L803.5 402.1" stroke-width="3.70"/><path d="M843.1 423.5L889.7 448.7" stroke-width="3.69"/><path d="M929.5 469.8L975.7 493.7" stroke-width="3.73"/><path d="M1015.8 514.3L1061.8 537.5" stroke-width="3.75"/><path d="M1102 557.9L1148 581.1" stroke-width="3.75"/><path d="M1188.2 601.5L1234.2 624.7" stroke-width="3.75"/><path d="M1274.5 644.8L1320.3 667.3" stroke-width="3.77"/><path d="M1360.8 686.9L1406.4 708.7" stroke-width="3.79"/><path d="M1446.9 728.3L1492.7 750.9" stroke-width="3.77"/><path d="M1533.1 770.7L1578.9 793.3" stroke-width="3.77"/><path d="M1619.1 813.4L1665.3 837" stroke-width="3.74"/><path d="M1705 858L1751.8 883.6" stroke-width="3.68"/><path d="M1793.3 900.1L1835.9 911.3" stroke-width="4.06"/></g><path d="M392.3 154L409.9 173L392.3 192L374.7 173Z" fill="#fff"/><path d="M392.3 154L409.9 173L392.3 192Z" fill="#000000" stroke="#000000" stroke-width="2.16"/><path d="M392.3 154L409.9 173L392.3 192L374.7 173Z" fill="none" stroke="#000000" stroke-width="3.6" stroke-linejoin="miter"/><path d="M478.5 205.5L496.1 224.5L478.5 243.5L460.9 224.5Z" fill="#fff"/><path d="M478.5 205.5L496.1 224.5L478.5 243.5Z" fill="#000000" stroke="#000000" stroke-width="2.16"/><path d="M478.5 205.5L496.1 224.5L478.5 243.5L460.9 224.5Z" fill="none" stroke="#000000" stroke-width="3.6" stroke-linejoin="miter"/><path d="M564.7 253.4L582.3 272.4L564.7 291.4L547.1 272.4Z" fill="#fff"/><path d="M564.7 253.4L582.3 272.4L564.7 291.4Z" fill="#000000" stroke="#000000" stroke-width="2.16"/><path d="M564.7 253.4L582.3 272.4L564.7 291.4L547.1 272.4Z" fill="none" stroke="#000000" stroke-width="3.6" stroke-linejoin="miter"/><path d="M650.9 300.7L668.5 319.7L650.9 338.7L633.3 319.7Z" fill="#fff"/><path d="M650.9 300.7L668.5 319.7L650.9 338.7Z" fill="#000000" stroke="#000000" stroke-width="2.16"/><path d="M650.9 300.7L668.5 319.7L650.9 338.7L633.3 319.7Z" fill="none" stroke="#000000" stroke-width="3.6" stroke-linejoin="miter"/><path d="M737.1 347.3L754.7 366.3L737.1 385.3L719.5 366.3Z" fill="#fff"/><path d="M737.1 347.3L754.7 366.3L737.1 385.3Z" fill="#000000" stroke="#000000" stroke-width="2.16"/><path d="M737.1 347.3L754.7 366.3L737.1 385.3L719.5 366.3Z" fill="none" stroke="#000000" stroke-width="3.6" stroke-linejoin="miter"/><path d="M823.3 393.8L840.9 412.8L823.3 431.8L805.7 412.8Z" fill="#fff"/><path d="M823.3 393.8L840.9 412.8L823.3 431.8Z" fill="#000000" stroke="#000000" stroke-width="2.16"/><path d="M823.3 393.8L840.9 412.8L823.3 431.8L805.7 412.8Z" fill="none" stroke="#000000" stroke-width="3.6" stroke-linejoin="miter"/><path d="M909.5 440.4L927.1 459.4L909.5 478.4L891.9 459.4Z" fill="#fff"/><path d="M909.5 440.4L927.1 459.4L909.5 478.4Z" fill="#000000" stroke="#000000" stroke-width="2.16"/><path d="M909.5 440.4L927.1 459.4L909.5 478.4L891.9 459.4Z" fill="none" stroke="#000000" stroke-width="3.6" stroke-linejoin="miter"/><path d="M995.7 485.1L1013.3 504.1L995.7 523.1L978.1 504.1Z" fill="#fff"/><path d="M995.7 485.1L1013.3 504.1L995.7 523.1Z" fill="#000000" stroke="#000000" stroke-width="2.16"/><path d="M995.7 485.1L1013.3 504.1L995.7 523.1L978.1 504.1Z" fill="none" stroke="#000000" stroke-width="3.6" stroke-linejoin="miter"/><path d="M1081.9 528.7L1099.5 547.7L1081.9 566.7L1064.3 547.7Z" fill="#fff"/><path d="M1081.9 528.7L1099.5 547.7L1081.9 566.7Z" fill="#000000" stroke="#000000" stroke-width="2.16"/><path d="M1081.9 528.7L1099.5 547.7L1081.9 566.7L1064.3 547.7Z" fill="none" stroke="#000000" stroke-width="3.6" stroke-linejoin="miter"/><path d="M1168.1 572.3L1185.7 591.3L1168.1 610.3L1150.5 591.3Z" fill="#fff"/><path d="M1168.1 572.3L1185.7 591.3L1168.1 610.3Z" fill="#000000" stroke="#000000" stroke-width="2.16"/><path d="M1168.1 572.3L1185.7 591.3L1168.1 610.3L1150.5 591.3Z" fill="none" stroke="#000000" stroke-width="3.6" stroke-linejoin="miter"/><path d="M1254.3 615.9L1271.9 634.9L1254.3 653.9L1236.7 634.9Z" fill="#fff"/><path d="M1254.3 615.9L1271.9 634.9L1254.3 653.9Z" fill="#000000" stroke="#000000" stroke-width="2.16"/><path d="M1254.3 615.9L1271.9 634.9L1254.3 653.9L1236.7 634.9Z" fill="none" stroke="#000000" stroke-width="3.6" stroke-linejoin="miter"/><path d="M1340.5 658.2L1358.1 677.2L1340.5 696.2L1322.9 677.2Z" fill="#fff"/><path d="M1340.5 658.2L1358.1 677.2L1340.5 696.2Z" fill="#000000" stroke="#000000" stroke-width="2.16"/><path d="M1340.5 658.2L1358.1 677.2L1340.5 696.2L1322.9 677.2Z" fill="none" stroke="#000000" stroke-width="3.6" stroke-linejoin="miter"/><path d="M1426.7 699.4L1444.3 718.4L1426.7 737.4L1409.1 718.4Z" fill="#fff"/><path d="M1426.7 699.4L1444.3 718.4L1426.7 737.4Z" fill="#000000" stroke="#000000" stroke-width="2.16"/><path d="M1426.7 699.4L1444.3 718.4L1426.7 737.4L1409.1 718.4Z" fill="none" stroke="#000000" stroke-width="3.6" stroke-linejoin="miter"/><path d="M1512.9 741.8L1530.5 760.8L1512.9 779.8L1495.3 760.8Z" fill="#fff"/><path d="M1512.9 741.8L1530.5 760.8L1512.9 779.8Z" fill="#000000" stroke="#000000" stroke-width="2.16"/><path d="M1512.9 741.8L1530.5 760.8L1512.9 779.8L1495.3 760.8Z" fill="none" stroke="#000000" stroke-width="3.6" stroke-linejoin="miter"/><path d="M1599.1 784.2L1616.7 803.2L1599.1 822.2L1581.5 803.2Z" fill="#fff"/><path d="M1599.1 784.2L1616.7 803.2L1599.1 822.2Z" fill="#000000" stroke="#000000" stroke-width="2.16"/><path d="M1599.1 784.2L1616.7 803.2L1599.1 822.2L1581.5 803.2Z" fill="none" stroke="#000000" stroke-width="3.6" stroke-linejoin="miter"/><path d="M1685.3 828.2L1702.9 847.2L1685.3 866.2L1667.7 847.2Z" fill="#fff"/><path d="M1685.3 828.2L1702.9 847.2L1685.3 866.2Z" fill="#000000" stroke="#000000" stroke-width="2.16"/><path d="M1685.3 828.2L1702.9 847.2L1685.3 866.2L1667.7 847.2Z" fill="none" stroke="#000000" stroke-width="3.6" stroke-linejoin="miter"/><path d="M1771.5 875.4L1789.1 894.4L1771.5 913.4L1753.9 894.4Z" fill="#fff"/><path d="M1771.5 875.4L1789.1 894.4L1771.5 913.4Z" fill="#000000" stroke="#000000" stroke-width="2.16"/><path d="M1771.5 875.4L1789.1 894.4L1771.5 913.4L1753.9 894.4Z" fill="none" stroke="#000000" stroke-width="3.6" stroke-linejoin="miter"/><path d="M1857.7 898L1875.3 917L1857.7 936L1840.1 917Z" fill="#fff"/><path d="M1857.7 898L1875.3 917L1857.7 936Z" fill="#000000" stroke="#000000" stroke-width="2.16"/><path d="M1857.7 898L1875.3 917L1857.7 936L1840.1 917Z" fill="none" stroke="#000000" stroke-width="3.6" stroke-linejoin="miter"/>
</g>
<path d="M403 1043.6L464 1043.6M505 1043.6L564.5 1043.6M582.7 1043.6L641 1043.6M685.5 1043.6L744 1043.6" stroke="#ff0000" stroke-width="4.2" fill="none"/>
<circle cx="484.6" cy="1043.6" r="15.6" fill="#ff0000"/>
<circle cx="663.8" cy="1043.6" r="14.4" fill="#fff"/><circle cx="663.8" cy="1043.6" r="14.4" fill="none" stroke="#ff0000" stroke-width="3.6"/>
<text x="762" y="1063.6" class="t">1</text>
<path d="M403 1124.7L464 1124.7M505 1124.7L564.5 1124.7M582.7 1124.7L641 1124.7M685.5 1124.7L744 1124.7" stroke="#00ff00" stroke-width="4.2" fill="none"/>
<path d="M484.6 1103L502.6 1135.5L466.6 1135.5Z" fill="#00ff00" stroke="#00ff00" stroke-width="3.6" stroke-linejoin="miter"/>
<path d="M663.8 1103L680.6 1135.5L647 1135.5Z" fill="#fff"/><path d="M663.8 1103L680.6 1135.5L647 1135.5Z" fill="none" stroke="#00ff00" stroke-width="3.6" stroke-linejoin="miter"/>
<text x="762" y="1144.7" class="t">2</text>
<path d="M403 1205.9L465.5 1205.9M503 1205.9L626.5 1205.9M665 1205.9L725.6 1205.9" stroke="#000000" stroke-width="4.2" fill="none"/>
<path d="M484.6 1186.9L502.2 1205.9L484.6 1224.9L467 1205.9Z" fill="#000000" stroke="#000000" stroke-width="3.6" stroke-linejoin="miter"/>
<path d="M645.7 1186.9L663.3 1205.9L645.7 1224.9L628.1 1205.9Z" fill="#fff"/><path d="M645.7 1186.9L663.3 1205.9L645.7 1224.9L628.1 1205.9Z" fill="none" stroke="#000000" stroke-width="3.6" stroke-linejoin="miter"/>
<text x="762" y="1225.9" class="t">3</text>
<path d="M403 1287L464.5 1287M505 1287L626 1287M666 1287L725.6 1287" stroke="#ff00ff" stroke-width="4.2" fill="none"/>
<path d="M473.1 1269.2L502.1 1287L473.1 1304.8Z" fill="#ff00ff" stroke="#ff00ff" stroke-width="3.6" stroke-linejoin="miter"/>
<path d="M634.2 1269.2L663.2 1287L634.2 1304.8Z" fill="#fff"/><path d="M634.2 1269.2L663.2 1287L634.2 1304.8Z" fill="none" stroke="#ff00ff" stroke-width="3.6" stroke-linejoin="miter"/>
<text x="762" y="1307" class="t">4</text>
<path d="M403 1368.1L464 1368.1M505 1368.1L564.5 1368.1M582.7 1368.1L641 1368.1M685.5 1368.1L744 1368.1" stroke="#0000ff" stroke-width="4.2" fill="none"/>
<path d="M471.4 1354.9L497.8 1354.9L497.8 1381.3L471.4 1381.3Z" fill="#0000ff" stroke="#0000ff" stroke-width="3.6" stroke-linejoin="miter"/>
<path d="M650.6 1354.9L677 1354.9L677 1381.3L650.6 1381.3Z" fill="#fff"/><path d="M650.6 1354.9L677 1354.9L677 1381.3L650.6 1381.3Z" fill="none" stroke="#0000ff" stroke-width="3.6" stroke-linejoin="miter"/>
<text x="762" y="1388.1" class="t">5</text>
<rect x="392.5" y="84.5" width="1464.5" height="1324.5" fill="none" stroke="#000" stroke-width="4.0"/>
<path d="M379.5 1410.5L392.5 1410.5M379.5 1393.6L392.5 1393.6M379.5 1379.2L392.5 1379.2M379.5 1366.8L392.5 1366.8M379.5 1355.9L392.5 1355.9M364.5 1346.1L392.5 1346.1M379.5 1281.7L392.5 1281.7M379.5 1244L392.5 1244M379.5 1217.3L392.5 1217.3M379.5 1196.5L392.5 1196.5M379.5 1179.6L392.5 1179.6M379.5 1165.3L392.5 1165.3M379.5 1152.9L392.5 1152.9M379.5 1141.9L392.5 1141.9M364.5 1132.1L392.5 1132.1M379.5 1067.7L392.5 1067.7M379.5 1030.1L392.5 1030.1M379.5 1003.3L392.5 1003.3M379.5 982.6L392.5 982.6M379.5 965.6L392.5 965.6M379.5 951.3L392.5 951.3M379.5 938.9L392.5 938.9M379.5 928L392.5 928M364.5 918.2L392.5 918.2M379.5 853.8L392.5 853.8M379.5 816.1L392.5 816.1M379.5 789.4L392.5 789.4M379.5 768.6L392.5 768.6M379.5 751.7L392.5 751.7M379.5 737.4L392.5 737.4M379.5 725L392.5 725M379.5 714L392.5 714M364.5 704.2L392.5 704.2M379.5 639.8L392.5 639.8M379.5 602.1L392.5 602.1M379.5 575.4L392.5 575.4M379.5 554.7L392.5 554.7M379.5 537.7L392.5 537.7M379.5 523.4L392.5 523.4M379.5 511L392.5 511M379.5 500.1L392.5 500.1M364.5 490.3L392.5 490.3M379.5 425.9L392.5 425.9M379.5 388.2L392.5 388.2M379.5 361.4L392.5 361.4M379.5 340.7L392.5 340.7M379.5 323.8L392.5 323.8M379.5 309.4L392.5 309.4M379.5 297L392.5 297M379.5 286.1L392.5 286.1M364.5 276.3L392.5 276.3M379.5 211.9L392.5 211.9M379.5 174.2L392.5 174.2M379.5 147.5L392.5 147.5M379.5 126.7L392.5 126.7M379.5 109.8L392.5 109.8M379.5 95.5L392.5 95.5M391.7 1409L391.7 1421M469.9 1409L469.9 1421M525.4 1409L525.4 1421M568.4 1409L568.4 1421M603.5 1409L603.5 1421M633.2 1409L633.2 1421M659 1409L659 1421M681.7 1409L681.7 1421M702 1409L702 1435M835.6 1409L835.6 1421M913.8 1409L913.8 1421M969.3 1409L969.3 1421M1012.3 1409L1012.3 1421M1047.4 1409L1047.4 1421M1077.1 1409L1077.1 1421M1102.9 1409L1102.9 1421M1125.6 1409L1125.6 1421M1145.9 1409L1145.9 1435M1279.5 1409L1279.5 1421M1357.7 1409L1357.7 1421M1413.2 1409L1413.2 1421M1456.2 1409L1456.2 1421M1491.3 1409L1491.3 1421M1521 1409L1521 1421M1546.8 1409L1546.8 1421M1569.5 1409L1569.5 1421M1589.8 1409L1589.8 1435M1723.4 1409L1723.4 1421M1801.6 1409L1801.6 1421M1857.1 1409L1857.1 1421M1845 1340.5L1857 1340.5M1845 1299.5L1857 1299.5M1845 1270.4L1857 1270.4M1845 1247.9L1857 1247.9M1845 1229.4L1857 1229.4M1845 1213.9L1857 1213.9M1845 1200.4L1857 1200.4M1845 1188.5L1857 1188.5M1834 1177.8L1857 1177.8M1845 1107.7L1857 1107.7M1845 1066.7L1857 1066.7M1845 1037.6L1857 1037.6M1845 1015.1L1857 1015.1M1845 996.6L1857 996.6M1845 981.1L1857 981.1M1845 967.6L1857 967.6M1845 955.7L1857 955.7M1834 945L1857 945M1845 874.9L1857 874.9M1845 833.9L1857 833.9M1845 804.8L1857 804.8M1845 782.3L1857 782.3M1845 763.8L1857 763.8M1845 748.3L1857 748.3M1845 734.8L1857 734.8M1845 722.9L1857 722.9M1834 712.2L1857 712.2M1845 642.1L1857 642.1M1845 601.1L1857 601.1M1845 572L1857 572M1845 549.5L1857 549.5M1845 531L1857 531M1845 515.5L1857 515.5M1845 502L1857 502M1845 490.1L1857 490.1M1834 479.4L1857 479.4M1845 409.3L1857 409.3M1845 368.3L1857 368.3M1845 339.2L1857 339.2M1845 316.7L1857 316.7M1845 298.2L1857 298.2M1845 282.7L1857 282.7M1845 269.2L1857 269.2M1845 257.3L1857 257.3M1834 246.6L1857 246.6M1845 176.5L1857 176.5M1845 135.5L1857 135.5M1845 106.4L1857 106.4M1845 83.9L1857 83.9M1845 204.3L1857 204.3M1845 151.2L1857 151.2M1845 113.6L1857 113.6M1845 84.4L1857 84.4M1834 295L1857 295M1845 505.6L1857 505.6M1845 452.6L1857 452.6M1845 414.9L1857 414.9M1845 385.7L1857 385.7M1845 361.8L1857 361.8M1845 341.7L1857 341.7M1845 324.2L1857 324.2M1845 308.8L1857 308.8M1834 596.3L1857 596.3M1845 807L1857 807M1845 753.9L1857 753.9M1845 716.2L1857 716.2M1845 687L1857 687M1845 663.2L1857 663.2M1845 643L1857 643M1845 625.5L1857 625.5M1845 610.1L1857 610.1M1834 897.7L1857 897.7M1845 1108.3L1857 1108.3M1845 1055.2L1857 1055.2M1845 1017.6L1857 1017.6M1845 988.4L1857 988.4M1845 964.5L1857 964.5M1845 944.3L1857 944.3M1845 926.9L1857 926.9M1845 911.4L1857 911.4M1834 1199L1857 1199M1845 1409.6L1857 1409.6M1845 1356.5L1857 1356.5M1845 1318.9L1857 1318.9M1845 1289.7L1857 1289.7M1845 1265.8L1857 1265.8M1845 1245.7L1857 1245.7M1845 1228.2L1857 1228.2M1845 1212.8L1857 1212.8" stroke="#000" stroke-width="4.0" fill="none"/>
<text x="345" y="295.3" class="t" text-anchor="end">10000</text>
<text x="345" y="509.3" class="t" text-anchor="end">1000</text>
<text x="345" y="723.2" class="t" text-anchor="end">100</text>
<text x="345" y="937.2" class="t" text-anchor="end">10</text>
<text x="345" y="1151.1" class="t" text-anchor="end">1</text>
<text x="345" y="1365.1" class="t" text-anchor="end">0.1</text>
<text x="1886" y="266.1" class="t">100000</text>
<text x="1886" y="498.9" class="t">10000</text>
<text x="1886" y="731.7" class="t">1000</text>
<text x="1886" y="964.5" class="t">100</text>
<text x="1886" y="1197.3" class="t">10</text>
<text x="1886" y="1430.1" class="t">1</text>
<text x="702" y="1509" class="t" text-anchor="middle">1</text>
<text x="1145.9" y="1509" class="t" text-anchor="middle">10</text>
<text x="1589.8" y="1509" class="t" text-anchor="middle">100</text>
<text x="1183" y="1601" class="xt" text-anchor="middle">Angular frequency, [Hz]</text>
<text transform="translate(112 783) rotate(-90)" class="yt" text-anchor="middle">G', G", [Pa]</text>
<text transform="translate(2198 764) rotate(-90)" class="yt" text-anchor="middle">Complex Viscocity, [Pa*s]</text>
</svg>
</body></html>
